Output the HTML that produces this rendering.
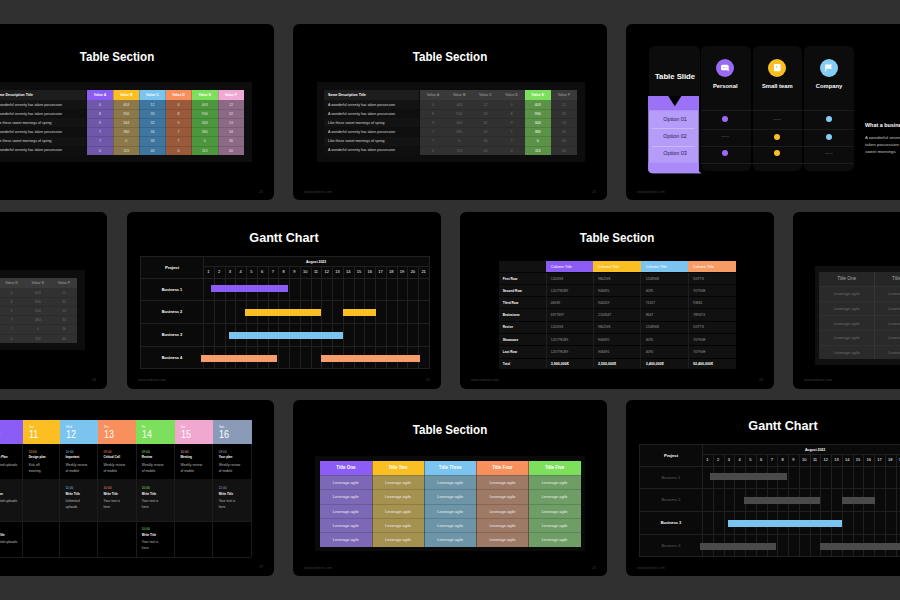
<!DOCTYPE html>
<html><head><meta charset="utf-8"><style>
html,body{margin:0;padding:0;}
body{width:900px;height:600px;overflow:hidden;background:#303030;position:relative;font-family:"Liberation Sans",sans-serif;}
div{position:absolute;box-sizing:border-box;}
.card{background:#000;border-radius:6px;overflow:hidden;}
</style></head><body>
<div class="card" style="left:-40px;top:24px;width:314px;height:176px;"><div style="left:7.00px;top:26.80px;width:300px;height:12.60px;line-height:12.60px;font-size:12.60px;color:#fff;font-weight:bold;text-align:center;white-space:nowrap;transform:scaleX(0.92);transform-origin:center center;">Table Section</div><div style="left:24.00px;top:58.00px;width:268.00px;height:80.00px;background:#0d0d0d;"></div><div style="left:31.00px;top:66.00px;width:95.00px;height:10.00px;background:#1d1d1d;"></div><div style="left:35.00px;top:70.05px;width:300px;height:3.50px;line-height:3.50px;font-size:3.50px;color:#fff;font-weight:bold;text-align:left;white-space:nowrap;">Some Description Title</div><div style="left:31.00px;top:76.00px;width:95.00px;height:9.17px;background:#131313;"></div><div style="left:35.00px;top:79.61px;width:300px;height:3.55px;line-height:3.55px;font-size:3.55px;color:#d8d8d8;font-weight:normal;text-align:left;white-space:nowrap;">A wonderful serenity has taken possession</div><div style="left:31.00px;top:85.17px;width:95.00px;height:9.17px;background:#0f0f0f;"></div><div style="left:35.00px;top:88.77px;width:300px;height:3.55px;line-height:3.55px;font-size:3.55px;color:#d8d8d8;font-weight:normal;text-align:left;white-space:nowrap;">A wonderful serenity has taken possession</div><div style="left:31.00px;top:94.33px;width:95.00px;height:9.17px;background:#131313;"></div><div style="left:35.00px;top:97.94px;width:300px;height:3.55px;line-height:3.55px;font-size:3.55px;color:#d8d8d8;font-weight:normal;text-align:left;white-space:nowrap;">Like these sweet mornings of spring</div><div style="left:31.00px;top:103.50px;width:95.00px;height:9.17px;background:#0f0f0f;"></div><div style="left:35.00px;top:107.11px;width:300px;height:3.55px;line-height:3.55px;font-size:3.55px;color:#d8d8d8;font-weight:normal;text-align:left;white-space:nowrap;">A wonderful serenity has taken possession</div><div style="left:31.00px;top:112.67px;width:95.00px;height:9.17px;background:#131313;"></div><div style="left:35.00px;top:116.27px;width:300px;height:3.55px;line-height:3.55px;font-size:3.55px;color:#d8d8d8;font-weight:normal;text-align:left;white-space:nowrap;">Like these sweet mornings of spring</div><div style="left:31.00px;top:121.83px;width:95.00px;height:9.17px;background:#0f0f0f;"></div><div style="left:35.00px;top:125.44px;width:300px;height:3.55px;line-height:3.55px;font-size:3.55px;color:#d8d8d8;font-weight:normal;text-align:left;white-space:nowrap;">A wonderful serenity has taken possession</div><div style="left:127.00px;top:66.00px;width:26.47px;height:10.00px;background:#8b5cf6;"></div><div style="left:127.00px;top:76.00px;width:26.47px;height:55.00px;background:#6e58aa;"></div><div style="left:-9.92px;top:70.25px;width:300px;height:3.50px;line-height:3.50px;font-size:3.50px;color:#fff;font-weight:bold;text-align:center;white-space:nowrap;">Value A</div><div style="left:-9.92px;top:79.68px;width:300px;height:3.60px;line-height:3.60px;font-size:3.60px;color:#e0e0e0;font-weight:normal;text-align:center;white-space:nowrap;">0</div><div style="left:127.00px;top:84.92px;width:26.17px;height:0.50px;background:rgba(0,0,0,0.12);"></div><div style="left:-9.92px;top:88.85px;width:300px;height:3.60px;line-height:3.60px;font-size:3.60px;color:#e0e0e0;font-weight:normal;text-align:center;white-space:nowrap;">8</div><div style="left:127.00px;top:94.08px;width:26.17px;height:0.50px;background:rgba(0,0,0,0.12);"></div><div style="left:-9.92px;top:98.02px;width:300px;height:3.60px;line-height:3.60px;font-size:3.60px;color:#e0e0e0;font-weight:normal;text-align:center;white-space:nowrap;">9</div><div style="left:127.00px;top:103.25px;width:26.17px;height:0.50px;background:rgba(0,0,0,0.12);"></div><div style="left:-9.92px;top:107.18px;width:300px;height:3.60px;line-height:3.60px;font-size:3.60px;color:#e0e0e0;font-weight:normal;text-align:center;white-space:nowrap;">7</div><div style="left:127.00px;top:112.42px;width:26.17px;height:0.50px;background:rgba(0,0,0,0.12);"></div><div style="left:-9.92px;top:116.35px;width:300px;height:3.60px;line-height:3.60px;font-size:3.60px;color:#e0e0e0;font-weight:normal;text-align:center;white-space:nowrap;">7</div><div style="left:127.00px;top:121.58px;width:26.17px;height:0.50px;background:rgba(0,0,0,0.12);"></div><div style="left:-9.92px;top:125.52px;width:300px;height:3.60px;line-height:3.60px;font-size:3.60px;color:#e0e0e0;font-weight:normal;text-align:center;white-space:nowrap;">0</div><div style="left:153.17px;top:66.00px;width:26.47px;height:10.00px;background:#fbbf24;"></div><div style="left:153.17px;top:76.00px;width:26.47px;height:55.00px;background:#8c7848;"></div><div style="left:152.87px;top:66.00px;width:0.60px;height:65.00px;background:rgba(0,0,0,0.18);"></div><div style="left:16.25px;top:70.25px;width:300px;height:3.50px;line-height:3.50px;font-size:3.50px;color:#fff;font-weight:bold;text-align:center;white-space:nowrap;">Value B</div><div style="left:16.25px;top:79.68px;width:300px;height:3.60px;line-height:3.60px;font-size:3.60px;color:#e0e0e0;font-weight:normal;text-align:center;white-space:nowrap;">403</div><div style="left:153.17px;top:84.92px;width:26.17px;height:0.50px;background:rgba(0,0,0,0.12);"></div><div style="left:16.25px;top:88.85px;width:300px;height:3.60px;line-height:3.60px;font-size:3.60px;color:#e0e0e0;font-weight:normal;text-align:center;white-space:nowrap;">956</div><div style="left:153.17px;top:94.08px;width:26.17px;height:0.50px;background:rgba(0,0,0,0.12);"></div><div style="left:16.25px;top:98.02px;width:300px;height:3.60px;line-height:3.60px;font-size:3.60px;color:#e0e0e0;font-weight:normal;text-align:center;white-space:nowrap;">344</div><div style="left:153.17px;top:103.25px;width:26.17px;height:0.50px;background:rgba(0,0,0,0.12);"></div><div style="left:16.25px;top:107.18px;width:300px;height:3.60px;line-height:3.60px;font-size:3.60px;color:#e0e0e0;font-weight:normal;text-align:center;white-space:nowrap;">380</div><div style="left:153.17px;top:112.42px;width:26.17px;height:0.50px;background:rgba(0,0,0,0.12);"></div><div style="left:16.25px;top:116.35px;width:300px;height:3.60px;line-height:3.60px;font-size:3.60px;color:#e0e0e0;font-weight:normal;text-align:center;white-space:nowrap;">0</div><div style="left:153.17px;top:121.58px;width:26.17px;height:0.50px;background:rgba(0,0,0,0.12);"></div><div style="left:16.25px;top:125.52px;width:300px;height:3.60px;line-height:3.60px;font-size:3.60px;color:#e0e0e0;font-weight:normal;text-align:center;white-space:nowrap;">113</div><div style="left:179.33px;top:66.00px;width:26.47px;height:10.00px;background:#7cc4f0;"></div><div style="left:179.33px;top:76.00px;width:26.47px;height:55.00px;background:#3e76a0;"></div><div style="left:179.03px;top:66.00px;width:0.60px;height:65.00px;background:rgba(0,0,0,0.18);"></div><div style="left:42.42px;top:70.25px;width:300px;height:3.50px;line-height:3.50px;font-size:3.50px;color:#fff;font-weight:bold;text-align:center;white-space:nowrap;">Value C</div><div style="left:42.42px;top:79.68px;width:300px;height:3.60px;line-height:3.60px;font-size:3.60px;color:#e0e0e0;font-weight:normal;text-align:center;white-space:nowrap;">12</div><div style="left:179.33px;top:84.92px;width:26.17px;height:0.50px;background:rgba(0,0,0,0.12);"></div><div style="left:42.42px;top:88.85px;width:300px;height:3.60px;line-height:3.60px;font-size:3.60px;color:#e0e0e0;font-weight:normal;text-align:center;white-space:nowrap;">33</div><div style="left:179.33px;top:94.08px;width:26.17px;height:0.50px;background:rgba(0,0,0,0.12);"></div><div style="left:42.42px;top:98.02px;width:300px;height:3.60px;line-height:3.60px;font-size:3.60px;color:#e0e0e0;font-weight:normal;text-align:center;white-space:nowrap;">32</div><div style="left:179.33px;top:103.25px;width:26.17px;height:0.50px;background:rgba(0,0,0,0.12);"></div><div style="left:42.42px;top:107.18px;width:300px;height:3.60px;line-height:3.60px;font-size:3.60px;color:#e0e0e0;font-weight:normal;text-align:center;white-space:nowrap;">34</div><div style="left:179.33px;top:112.42px;width:26.17px;height:0.50px;background:rgba(0,0,0,0.12);"></div><div style="left:42.42px;top:116.35px;width:300px;height:3.60px;line-height:3.60px;font-size:3.60px;color:#e0e0e0;font-weight:normal;text-align:center;white-space:nowrap;">36</div><div style="left:179.33px;top:121.58px;width:26.17px;height:0.50px;background:rgba(0,0,0,0.12);"></div><div style="left:42.42px;top:125.52px;width:300px;height:3.60px;line-height:3.60px;font-size:3.60px;color:#e0e0e0;font-weight:normal;text-align:center;white-space:nowrap;">40</div><div style="left:205.50px;top:66.00px;width:26.47px;height:10.00px;background:#f7905c;"></div><div style="left:205.50px;top:76.00px;width:26.47px;height:55.00px;background:#985a3a;"></div><div style="left:205.20px;top:66.00px;width:0.60px;height:65.00px;background:rgba(0,0,0,0.18);"></div><div style="left:68.58px;top:70.25px;width:300px;height:3.50px;line-height:3.50px;font-size:3.50px;color:#fff;font-weight:bold;text-align:center;white-space:nowrap;">Value D</div><div style="left:68.58px;top:79.68px;width:300px;height:3.60px;line-height:3.60px;font-size:3.60px;color:#e0e0e0;font-weight:normal;text-align:center;white-space:nowrap;">0</div><div style="left:205.50px;top:84.92px;width:26.17px;height:0.50px;background:rgba(0,0,0,0.12);"></div><div style="left:68.58px;top:88.85px;width:300px;height:3.60px;line-height:3.60px;font-size:3.60px;color:#e0e0e0;font-weight:normal;text-align:center;white-space:nowrap;">8</div><div style="left:205.50px;top:94.08px;width:26.17px;height:0.50px;background:rgba(0,0,0,0.12);"></div><div style="left:68.58px;top:98.02px;width:300px;height:3.60px;line-height:3.60px;font-size:3.60px;color:#e0e0e0;font-weight:normal;text-align:center;white-space:nowrap;">9</div><div style="left:205.50px;top:103.25px;width:26.17px;height:0.50px;background:rgba(0,0,0,0.12);"></div><div style="left:68.58px;top:107.18px;width:300px;height:3.60px;line-height:3.60px;font-size:3.60px;color:#e0e0e0;font-weight:normal;text-align:center;white-space:nowrap;">7</div><div style="left:205.50px;top:112.42px;width:26.17px;height:0.50px;background:rgba(0,0,0,0.12);"></div><div style="left:68.58px;top:116.35px;width:300px;height:3.60px;line-height:3.60px;font-size:3.60px;color:#e0e0e0;font-weight:normal;text-align:center;white-space:nowrap;">7</div><div style="left:205.50px;top:121.58px;width:26.17px;height:0.50px;background:rgba(0,0,0,0.12);"></div><div style="left:68.58px;top:125.52px;width:300px;height:3.60px;line-height:3.60px;font-size:3.60px;color:#e0e0e0;font-weight:normal;text-align:center;white-space:nowrap;">0</div><div style="left:231.67px;top:66.00px;width:26.47px;height:10.00px;background:#7de05c;"></div><div style="left:231.67px;top:76.00px;width:26.47px;height:55.00px;background:#4c963e;"></div><div style="left:231.37px;top:66.00px;width:0.60px;height:65.00px;background:rgba(0,0,0,0.18);"></div><div style="left:94.75px;top:70.25px;width:300px;height:3.50px;line-height:3.50px;font-size:3.50px;color:#fff;font-weight:bold;text-align:center;white-space:nowrap;">Value E</div><div style="left:94.75px;top:79.68px;width:300px;height:3.60px;line-height:3.60px;font-size:3.60px;color:#e0e0e0;font-weight:normal;text-align:center;white-space:nowrap;">403</div><div style="left:231.67px;top:84.92px;width:26.17px;height:0.50px;background:rgba(0,0,0,0.12);"></div><div style="left:94.75px;top:88.85px;width:300px;height:3.60px;line-height:3.60px;font-size:3.60px;color:#e0e0e0;font-weight:normal;text-align:center;white-space:nowrap;">956</div><div style="left:231.67px;top:94.08px;width:26.17px;height:0.50px;background:rgba(0,0,0,0.12);"></div><div style="left:94.75px;top:98.02px;width:300px;height:3.60px;line-height:3.60px;font-size:3.60px;color:#e0e0e0;font-weight:normal;text-align:center;white-space:nowrap;">344</div><div style="left:231.67px;top:103.25px;width:26.17px;height:0.50px;background:rgba(0,0,0,0.12);"></div><div style="left:94.75px;top:107.18px;width:300px;height:3.60px;line-height:3.60px;font-size:3.60px;color:#e0e0e0;font-weight:normal;text-align:center;white-space:nowrap;">380</div><div style="left:231.67px;top:112.42px;width:26.17px;height:0.50px;background:rgba(0,0,0,0.12);"></div><div style="left:94.75px;top:116.35px;width:300px;height:3.60px;line-height:3.60px;font-size:3.60px;color:#e0e0e0;font-weight:normal;text-align:center;white-space:nowrap;">0</div><div style="left:231.67px;top:121.58px;width:26.17px;height:0.50px;background:rgba(0,0,0,0.12);"></div><div style="left:94.75px;top:125.52px;width:300px;height:3.60px;line-height:3.60px;font-size:3.60px;color:#e0e0e0;font-weight:normal;text-align:center;white-space:nowrap;">113</div><div style="left:257.83px;top:66.00px;width:26.47px;height:10.00px;background:#f0a8d4;"></div><div style="left:257.83px;top:76.00px;width:26.47px;height:55.00px;background:#8c6a86;"></div><div style="left:257.53px;top:66.00px;width:0.60px;height:65.00px;background:rgba(0,0,0,0.18);"></div><div style="left:120.92px;top:70.25px;width:300px;height:3.50px;line-height:3.50px;font-size:3.50px;color:#fff;font-weight:bold;text-align:center;white-space:nowrap;">Value F</div><div style="left:120.92px;top:79.68px;width:300px;height:3.60px;line-height:3.60px;font-size:3.60px;color:#e0e0e0;font-weight:normal;text-align:center;white-space:nowrap;">12</div><div style="left:257.83px;top:84.92px;width:26.17px;height:0.50px;background:rgba(0,0,0,0.12);"></div><div style="left:120.92px;top:88.85px;width:300px;height:3.60px;line-height:3.60px;font-size:3.60px;color:#e0e0e0;font-weight:normal;text-align:center;white-space:nowrap;">32</div><div style="left:257.83px;top:94.08px;width:26.17px;height:0.50px;background:rgba(0,0,0,0.12);"></div><div style="left:120.92px;top:98.02px;width:300px;height:3.60px;line-height:3.60px;font-size:3.60px;color:#e0e0e0;font-weight:normal;text-align:center;white-space:nowrap;">13</div><div style="left:257.83px;top:103.25px;width:26.17px;height:0.50px;background:rgba(0,0,0,0.12);"></div><div style="left:120.92px;top:107.18px;width:300px;height:3.60px;line-height:3.60px;font-size:3.60px;color:#e0e0e0;font-weight:normal;text-align:center;white-space:nowrap;">34</div><div style="left:257.83px;top:112.42px;width:26.17px;height:0.50px;background:rgba(0,0,0,0.12);"></div><div style="left:120.92px;top:116.35px;width:300px;height:3.60px;line-height:3.60px;font-size:3.60px;color:#e0e0e0;font-weight:normal;text-align:center;white-space:nowrap;">36</div><div style="left:257.83px;top:121.58px;width:26.17px;height:0.50px;background:rgba(0,0,0,0.12);"></div><div style="left:120.92px;top:125.52px;width:300px;height:3.60px;line-height:3.60px;font-size:3.60px;color:#e0e0e0;font-weight:normal;text-align:center;white-space:nowrap;">40</div><div style="left:11.00px;top:166.85px;width:300px;height:3.50px;line-height:3.50px;font-size:3.50px;color:#3c3c3c;font-weight:normal;text-align:left;white-space:nowrap;">www.website.com</div><div style="left:3.00px;top:166.55px;width:300px;height:3.50px;line-height:3.50px;font-size:3.50px;color:#3c3c3c;font-weight:normal;text-align:right;white-space:nowrap;">24</div></div><div class="card" style="left:293px;top:24px;width:314px;height:176px;"><div style="left:7.00px;top:26.80px;width:300px;height:12.60px;line-height:12.60px;font-size:12.60px;color:#fff;font-weight:bold;text-align:center;white-space:nowrap;transform:scaleX(0.92);transform-origin:center center;">Table Section</div><div style="left:24.00px;top:58.00px;width:268.00px;height:80.00px;background:#0d0d0d;"></div><div style="left:31.00px;top:66.00px;width:95.00px;height:10.00px;background:#1d1d1d;"></div><div style="left:35.00px;top:70.05px;width:300px;height:3.50px;line-height:3.50px;font-size:3.50px;color:#fff;font-weight:bold;text-align:left;white-space:nowrap;">Some Description Title</div><div style="left:31.00px;top:76.00px;width:95.00px;height:9.17px;background:#131313;"></div><div style="left:35.00px;top:79.61px;width:300px;height:3.55px;line-height:3.55px;font-size:3.55px;color:#d8d8d8;font-weight:normal;text-align:left;white-space:nowrap;">A wonderful serenity has taken possession</div><div style="left:31.00px;top:85.17px;width:95.00px;height:9.17px;background:#0f0f0f;"></div><div style="left:35.00px;top:88.77px;width:300px;height:3.55px;line-height:3.55px;font-size:3.55px;color:#d8d8d8;font-weight:normal;text-align:left;white-space:nowrap;">A wonderful serenity has taken possession</div><div style="left:31.00px;top:94.33px;width:95.00px;height:9.17px;background:#131313;"></div><div style="left:35.00px;top:97.94px;width:300px;height:3.55px;line-height:3.55px;font-size:3.55px;color:#d8d8d8;font-weight:normal;text-align:left;white-space:nowrap;">Like these sweet mornings of spring</div><div style="left:31.00px;top:103.50px;width:95.00px;height:9.17px;background:#0f0f0f;"></div><div style="left:35.00px;top:107.11px;width:300px;height:3.55px;line-height:3.55px;font-size:3.55px;color:#d8d8d8;font-weight:normal;text-align:left;white-space:nowrap;">A wonderful serenity has taken possession</div><div style="left:31.00px;top:112.67px;width:95.00px;height:9.17px;background:#131313;"></div><div style="left:35.00px;top:116.27px;width:300px;height:3.55px;line-height:3.55px;font-size:3.55px;color:#d8d8d8;font-weight:normal;text-align:left;white-space:nowrap;">Like these sweet mornings of spring</div><div style="left:31.00px;top:121.83px;width:95.00px;height:9.17px;background:#0f0f0f;"></div><div style="left:35.00px;top:125.44px;width:300px;height:3.55px;line-height:3.55px;font-size:3.55px;color:#d8d8d8;font-weight:normal;text-align:left;white-space:nowrap;">A wonderful serenity has taken possession</div><div style="left:127.00px;top:66.00px;width:26.47px;height:10.00px;background:#3a3a3a;"></div><div style="left:127.00px;top:76.00px;width:26.47px;height:55.00px;background:#313131;"></div><div style="left:-9.92px;top:70.25px;width:300px;height:3.50px;line-height:3.50px;font-size:3.50px;color:#8a8a8a;font-weight:bold;text-align:center;white-space:nowrap;">Value A</div><div style="left:-9.92px;top:79.68px;width:300px;height:3.60px;line-height:3.60px;font-size:3.60px;color:#6a6a6a;font-weight:normal;text-align:center;white-space:nowrap;">0</div><div style="left:127.00px;top:84.92px;width:26.17px;height:0.50px;background:rgba(0,0,0,0.12);"></div><div style="left:-9.92px;top:88.85px;width:300px;height:3.60px;line-height:3.60px;font-size:3.60px;color:#6a6a6a;font-weight:normal;text-align:center;white-space:nowrap;">8</div><div style="left:127.00px;top:94.08px;width:26.17px;height:0.50px;background:rgba(0,0,0,0.12);"></div><div style="left:-9.92px;top:98.02px;width:300px;height:3.60px;line-height:3.60px;font-size:3.60px;color:#6a6a6a;font-weight:normal;text-align:center;white-space:nowrap;">9</div><div style="left:127.00px;top:103.25px;width:26.17px;height:0.50px;background:rgba(0,0,0,0.12);"></div><div style="left:-9.92px;top:107.18px;width:300px;height:3.60px;line-height:3.60px;font-size:3.60px;color:#6a6a6a;font-weight:normal;text-align:center;white-space:nowrap;">7</div><div style="left:127.00px;top:112.42px;width:26.17px;height:0.50px;background:rgba(0,0,0,0.12);"></div><div style="left:-9.92px;top:116.35px;width:300px;height:3.60px;line-height:3.60px;font-size:3.60px;color:#6a6a6a;font-weight:normal;text-align:center;white-space:nowrap;">7</div><div style="left:127.00px;top:121.58px;width:26.17px;height:0.50px;background:rgba(0,0,0,0.12);"></div><div style="left:-9.92px;top:125.52px;width:300px;height:3.60px;line-height:3.60px;font-size:3.60px;color:#6a6a6a;font-weight:normal;text-align:center;white-space:nowrap;">0</div><div style="left:153.17px;top:66.00px;width:26.47px;height:10.00px;background:#3a3a3a;"></div><div style="left:153.17px;top:76.00px;width:26.47px;height:55.00px;background:#313131;"></div><div style="left:16.25px;top:70.25px;width:300px;height:3.50px;line-height:3.50px;font-size:3.50px;color:#8a8a8a;font-weight:bold;text-align:center;white-space:nowrap;">Value B</div><div style="left:16.25px;top:79.68px;width:300px;height:3.60px;line-height:3.60px;font-size:3.60px;color:#6a6a6a;font-weight:normal;text-align:center;white-space:nowrap;">403</div><div style="left:153.17px;top:84.92px;width:26.17px;height:0.50px;background:rgba(0,0,0,0.12);"></div><div style="left:16.25px;top:88.85px;width:300px;height:3.60px;line-height:3.60px;font-size:3.60px;color:#6a6a6a;font-weight:normal;text-align:center;white-space:nowrap;">956</div><div style="left:153.17px;top:94.08px;width:26.17px;height:0.50px;background:rgba(0,0,0,0.12);"></div><div style="left:16.25px;top:98.02px;width:300px;height:3.60px;line-height:3.60px;font-size:3.60px;color:#6a6a6a;font-weight:normal;text-align:center;white-space:nowrap;">344</div><div style="left:153.17px;top:103.25px;width:26.17px;height:0.50px;background:rgba(0,0,0,0.12);"></div><div style="left:16.25px;top:107.18px;width:300px;height:3.60px;line-height:3.60px;font-size:3.60px;color:#6a6a6a;font-weight:normal;text-align:center;white-space:nowrap;">380</div><div style="left:153.17px;top:112.42px;width:26.17px;height:0.50px;background:rgba(0,0,0,0.12);"></div><div style="left:16.25px;top:116.35px;width:300px;height:3.60px;line-height:3.60px;font-size:3.60px;color:#6a6a6a;font-weight:normal;text-align:center;white-space:nowrap;">0</div><div style="left:153.17px;top:121.58px;width:26.17px;height:0.50px;background:rgba(0,0,0,0.12);"></div><div style="left:16.25px;top:125.52px;width:300px;height:3.60px;line-height:3.60px;font-size:3.60px;color:#6a6a6a;font-weight:normal;text-align:center;white-space:nowrap;">113</div><div style="left:179.33px;top:66.00px;width:26.47px;height:10.00px;background:#3a3a3a;"></div><div style="left:179.33px;top:76.00px;width:26.47px;height:55.00px;background:#313131;"></div><div style="left:42.42px;top:70.25px;width:300px;height:3.50px;line-height:3.50px;font-size:3.50px;color:#8a8a8a;font-weight:bold;text-align:center;white-space:nowrap;">Value C</div><div style="left:42.42px;top:79.68px;width:300px;height:3.60px;line-height:3.60px;font-size:3.60px;color:#6a6a6a;font-weight:normal;text-align:center;white-space:nowrap;">12</div><div style="left:179.33px;top:84.92px;width:26.17px;height:0.50px;background:rgba(0,0,0,0.12);"></div><div style="left:42.42px;top:88.85px;width:300px;height:3.60px;line-height:3.60px;font-size:3.60px;color:#6a6a6a;font-weight:normal;text-align:center;white-space:nowrap;">33</div><div style="left:179.33px;top:94.08px;width:26.17px;height:0.50px;background:rgba(0,0,0,0.12);"></div><div style="left:42.42px;top:98.02px;width:300px;height:3.60px;line-height:3.60px;font-size:3.60px;color:#6a6a6a;font-weight:normal;text-align:center;white-space:nowrap;">32</div><div style="left:179.33px;top:103.25px;width:26.17px;height:0.50px;background:rgba(0,0,0,0.12);"></div><div style="left:42.42px;top:107.18px;width:300px;height:3.60px;line-height:3.60px;font-size:3.60px;color:#6a6a6a;font-weight:normal;text-align:center;white-space:nowrap;">34</div><div style="left:179.33px;top:112.42px;width:26.17px;height:0.50px;background:rgba(0,0,0,0.12);"></div><div style="left:42.42px;top:116.35px;width:300px;height:3.60px;line-height:3.60px;font-size:3.60px;color:#6a6a6a;font-weight:normal;text-align:center;white-space:nowrap;">36</div><div style="left:179.33px;top:121.58px;width:26.17px;height:0.50px;background:rgba(0,0,0,0.12);"></div><div style="left:42.42px;top:125.52px;width:300px;height:3.60px;line-height:3.60px;font-size:3.60px;color:#6a6a6a;font-weight:normal;text-align:center;white-space:nowrap;">40</div><div style="left:205.50px;top:66.00px;width:26.47px;height:10.00px;background:#3a3a3a;"></div><div style="left:205.50px;top:76.00px;width:26.47px;height:55.00px;background:#313131;"></div><div style="left:68.58px;top:70.25px;width:300px;height:3.50px;line-height:3.50px;font-size:3.50px;color:#8a8a8a;font-weight:bold;text-align:center;white-space:nowrap;">Value D</div><div style="left:68.58px;top:79.68px;width:300px;height:3.60px;line-height:3.60px;font-size:3.60px;color:#6a6a6a;font-weight:normal;text-align:center;white-space:nowrap;">0</div><div style="left:205.50px;top:84.92px;width:26.17px;height:0.50px;background:rgba(0,0,0,0.12);"></div><div style="left:68.58px;top:88.85px;width:300px;height:3.60px;line-height:3.60px;font-size:3.60px;color:#6a6a6a;font-weight:normal;text-align:center;white-space:nowrap;">8</div><div style="left:205.50px;top:94.08px;width:26.17px;height:0.50px;background:rgba(0,0,0,0.12);"></div><div style="left:68.58px;top:98.02px;width:300px;height:3.60px;line-height:3.60px;font-size:3.60px;color:#6a6a6a;font-weight:normal;text-align:center;white-space:nowrap;">9</div><div style="left:205.50px;top:103.25px;width:26.17px;height:0.50px;background:rgba(0,0,0,0.12);"></div><div style="left:68.58px;top:107.18px;width:300px;height:3.60px;line-height:3.60px;font-size:3.60px;color:#6a6a6a;font-weight:normal;text-align:center;white-space:nowrap;">7</div><div style="left:205.50px;top:112.42px;width:26.17px;height:0.50px;background:rgba(0,0,0,0.12);"></div><div style="left:68.58px;top:116.35px;width:300px;height:3.60px;line-height:3.60px;font-size:3.60px;color:#6a6a6a;font-weight:normal;text-align:center;white-space:nowrap;">7</div><div style="left:205.50px;top:121.58px;width:26.17px;height:0.50px;background:rgba(0,0,0,0.12);"></div><div style="left:68.58px;top:125.52px;width:300px;height:3.60px;line-height:3.60px;font-size:3.60px;color:#6a6a6a;font-weight:normal;text-align:center;white-space:nowrap;">0</div><div style="left:231.67px;top:66.00px;width:26.47px;height:10.00px;background:#7de05c;"></div><div style="left:231.67px;top:76.00px;width:26.47px;height:55.00px;background:#5a9248;"></div><div style="left:94.75px;top:70.25px;width:300px;height:3.50px;line-height:3.50px;font-size:3.50px;color:#fff;font-weight:bold;text-align:center;white-space:nowrap;">Value E</div><div style="left:94.75px;top:79.68px;width:300px;height:3.60px;line-height:3.60px;font-size:3.60px;color:#fff;font-weight:normal;text-align:center;white-space:nowrap;">403</div><div style="left:231.67px;top:84.92px;width:26.17px;height:0.50px;background:rgba(0,0,0,0.12);"></div><div style="left:94.75px;top:88.85px;width:300px;height:3.60px;line-height:3.60px;font-size:3.60px;color:#fff;font-weight:normal;text-align:center;white-space:nowrap;">956</div><div style="left:231.67px;top:94.08px;width:26.17px;height:0.50px;background:rgba(0,0,0,0.12);"></div><div style="left:94.75px;top:98.02px;width:300px;height:3.60px;line-height:3.60px;font-size:3.60px;color:#fff;font-weight:normal;text-align:center;white-space:nowrap;">344</div><div style="left:231.67px;top:103.25px;width:26.17px;height:0.50px;background:rgba(0,0,0,0.12);"></div><div style="left:94.75px;top:107.18px;width:300px;height:3.60px;line-height:3.60px;font-size:3.60px;color:#fff;font-weight:normal;text-align:center;white-space:nowrap;">380</div><div style="left:231.67px;top:112.42px;width:26.17px;height:0.50px;background:rgba(0,0,0,0.12);"></div><div style="left:94.75px;top:116.35px;width:300px;height:3.60px;line-height:3.60px;font-size:3.60px;color:#fff;font-weight:normal;text-align:center;white-space:nowrap;">0</div><div style="left:231.67px;top:121.58px;width:26.17px;height:0.50px;background:rgba(0,0,0,0.12);"></div><div style="left:94.75px;top:125.52px;width:300px;height:3.60px;line-height:3.60px;font-size:3.60px;color:#fff;font-weight:normal;text-align:center;white-space:nowrap;">113</div><div style="left:257.83px;top:66.00px;width:26.47px;height:10.00px;background:#3a3a3a;"></div><div style="left:257.83px;top:76.00px;width:26.47px;height:55.00px;background:#313131;"></div><div style="left:120.92px;top:70.25px;width:300px;height:3.50px;line-height:3.50px;font-size:3.50px;color:#8a8a8a;font-weight:bold;text-align:center;white-space:nowrap;">Value F</div><div style="left:120.92px;top:79.68px;width:300px;height:3.60px;line-height:3.60px;font-size:3.60px;color:#6a6a6a;font-weight:normal;text-align:center;white-space:nowrap;">12</div><div style="left:257.83px;top:84.92px;width:26.17px;height:0.50px;background:rgba(0,0,0,0.12);"></div><div style="left:120.92px;top:88.85px;width:300px;height:3.60px;line-height:3.60px;font-size:3.60px;color:#6a6a6a;font-weight:normal;text-align:center;white-space:nowrap;">32</div><div style="left:257.83px;top:94.08px;width:26.17px;height:0.50px;background:rgba(0,0,0,0.12);"></div><div style="left:120.92px;top:98.02px;width:300px;height:3.60px;line-height:3.60px;font-size:3.60px;color:#6a6a6a;font-weight:normal;text-align:center;white-space:nowrap;">13</div><div style="left:257.83px;top:103.25px;width:26.17px;height:0.50px;background:rgba(0,0,0,0.12);"></div><div style="left:120.92px;top:107.18px;width:300px;height:3.60px;line-height:3.60px;font-size:3.60px;color:#6a6a6a;font-weight:normal;text-align:center;white-space:nowrap;">34</div><div style="left:257.83px;top:112.42px;width:26.17px;height:0.50px;background:rgba(0,0,0,0.12);"></div><div style="left:120.92px;top:116.35px;width:300px;height:3.60px;line-height:3.60px;font-size:3.60px;color:#6a6a6a;font-weight:normal;text-align:center;white-space:nowrap;">36</div><div style="left:257.83px;top:121.58px;width:26.17px;height:0.50px;background:rgba(0,0,0,0.12);"></div><div style="left:120.92px;top:125.52px;width:300px;height:3.60px;line-height:3.60px;font-size:3.60px;color:#6a6a6a;font-weight:normal;text-align:center;white-space:nowrap;">40</div><div style="left:11.00px;top:166.85px;width:300px;height:3.50px;line-height:3.50px;font-size:3.50px;color:#3c3c3c;font-weight:normal;text-align:left;white-space:nowrap;">www.website.com</div><div style="left:3.00px;top:166.55px;width:300px;height:3.50px;line-height:3.50px;font-size:3.50px;color:#3c3c3c;font-weight:normal;text-align:right;white-space:nowrap;">24</div></div><div class="card" style="left:626px;top:24px;width:314px;height:176px;"><div style="left:22.50px;top:22.00px;width:51.00px;height:127.00px;background:#0c0c0c;border-radius:6px;"></div><div style="left:75.00px;top:22.00px;width:49.50px;height:125.00px;background:#0c0c0c;border-radius:6px;"></div><div style="left:126.50px;top:22.00px;width:49.50px;height:125.00px;background:#0c0c0c;border-radius:6px;"></div><div style="left:178.00px;top:22.00px;width:50.00px;height:125.00px;background:#0c0c0c;border-radius:6px;"></div><div style="left:75.00px;top:86.00px;width:153.00px;height:0.70px;background:#1c1c1c;"></div><div style="left:75.00px;top:104.50px;width:153.00px;height:0.70px;background:#1c1c1c;"></div><div style="left:75.00px;top:122.00px;width:153.00px;height:0.70px;background:#1c1c1c;"></div><div style="left:75.00px;top:138.50px;width:153.00px;height:0.70px;background:#1c1c1c;"></div><svg style="position:absolute;left:22px;top:72px;" width="54" height="78" viewBox="0 0 54 78"><path d="M0.25,0 H50.75 V73.5 Q50.75,76.8 53.5,77.25 H5 Q0.25,77.25 0.25,72.5 Z" fill="#b59cf9"/><rect x="0.25" y="0" width="50.5" height="14.25" fill="#9b72f6"/><path d="M0.25,66.75 H50.75 V73.5 Q50.75,76.8 53.5,77.25 H5 Q0.25,77.25 0.25,72.5 Z" fill="#a98af8"/><polygon points="20.2,0 33.4,0 26.8,10.2" fill="#000"/></svg><div style="left:26.00px;top:104.25px;width:43.00px;height:0.60px;background:rgba(255,255,255,0.28);"></div><div style="left:26.00px;top:121.50px;width:43.00px;height:0.60px;background:rgba(255,255,255,0.28);"></div><div style="left:-101.00px;top:92.90px;width:300px;height:5.40px;line-height:5.40px;font-size:5.40px;color:#2a2050;font-weight:normal;text-align:center;white-space:nowrap;">Option 01</div><div style="left:-101.00px;top:110.30px;width:300px;height:5.40px;line-height:5.40px;font-size:5.40px;color:#2a2050;font-weight:normal;text-align:center;white-space:nowrap;">Option 02</div><div style="left:-101.00px;top:127.20px;width:300px;height:5.40px;line-height:5.40px;font-size:5.40px;color:#2a2050;font-weight:normal;text-align:center;white-space:nowrap;">Option 03</div><div style="left:-101.00px;top:48.85px;width:300px;height:7.70px;line-height:7.70px;font-size:7.70px;color:#fff;font-weight:bold;text-align:center;white-space:nowrap;">Table Slide</div><div style="left:90.25px;top:35.00px;width:18px;height:18px;border-radius:50%;background:#9a6af8;"></div><div style="left:-50.75px;top:59.90px;width:300px;height:5.80px;line-height:5.80px;font-size:5.80px;color:#fff;font-weight:bold;text-align:center;white-space:nowrap;">Personal</div><div style="left:142.25px;top:35.00px;width:18px;height:18px;border-radius:50%;background:#fbbf24;"></div><div style="left:1.25px;top:59.90px;width:300px;height:5.80px;line-height:5.80px;font-size:5.80px;color:#fff;font-weight:bold;text-align:center;white-space:nowrap;">Small team</div><div style="left:194.00px;top:35.00px;width:18px;height:18px;border-radius:50%;background:#86cdf5;"></div><div style="left:53.00px;top:59.90px;width:300px;height:5.80px;line-height:5.80px;font-size:5.80px;color:#fff;font-weight:bold;text-align:center;white-space:nowrap;">Company</div><svg style="position:absolute;left:94px;top:39px;" width="10" height="10" viewBox="0 0 10 10"><path d="M2.5,1.7 H7 Q8.7,1.7 8.7,3.4 V8.3 L7,7.3 H2.5 Q1,7.3 1,5.8 V3.2 Q1,1.7 2.5,1.7 Z" fill="#fff"/><circle cx="3.3" cy="4.5" r="0.45" fill="#9a6af8"/><circle cx="4.8" cy="4.5" r="0.45" fill="#9a6af8"/><circle cx="6.3" cy="4.5" r="0.45" fill="#9a6af8"/></svg><svg style="position:absolute;left:146px;top:39px;" width="10" height="10" viewBox="0 0 10 10"><rect x="1.9" y="1.1" width="6.75" height="7.2" rx="1" fill="#fff"/><circle cx="4.6" cy="3.9" r="0.6" fill="#c9a13a"/></svg><svg style="position:absolute;left:198px;top:39px;" width="10" height="10" viewBox="0 0 10 10"><rect x="1.2" y="1.5" width="0.9" height="7.1" fill="#fff"/><path d="M2.1,1.5 H8 L7,3.6 L8,5.8 H2.1 Z" fill="#fff"/></svg><div style="left:95.60px;top:92.20px;width:6px;height:6px;border-radius:50%;background:#9a6af8;"></div><div style="left:94.60px;top:112.20px;width:8.00px;height:0.80px;background:#2a2a2a;"></div><div style="left:95.60px;top:126.30px;width:6px;height:6px;border-radius:50%;background:#9a6af8;"></div><div style="left:147.00px;top:94.80px;width:8.00px;height:0.80px;background:#2a2a2a;"></div><div style="left:148.00px;top:109.60px;width:6px;height:6px;border-radius:50%;background:#fbbf24;"></div><div style="left:148.00px;top:126.30px;width:6px;height:6px;border-radius:50%;background:#fbbf24;"></div><div style="left:199.60px;top:92.20px;width:6px;height:6px;border-radius:50%;background:#86cdf5;"></div><div style="left:199.60px;top:109.60px;width:6px;height:6px;border-radius:50%;background:#86cdf5;"></div><div style="left:198.60px;top:128.90px;width:8.00px;height:0.80px;background:#2a2a2a;"></div><div style="left:239.00px;top:99.30px;width:300px;height:5.40px;line-height:5.40px;font-size:5.40px;color:#fff;font-weight:bold;text-align:left;white-space:nowrap;">What a business</div><div style="left:239.00px;top:111.90px;width:300px;height:4.40px;line-height:4.40px;font-size:4.40px;color:#c4c4c4;font-weight:normal;text-align:left;white-space:nowrap;">A wonderful serenity has</div><div style="left:239.00px;top:119.10px;width:300px;height:4.40px;line-height:4.40px;font-size:4.40px;color:#c4c4c4;font-weight:normal;text-align:left;white-space:nowrap;">taken possession of my</div><div style="left:239.00px;top:126.30px;width:300px;height:4.40px;line-height:4.40px;font-size:4.40px;color:#c4c4c4;font-weight:normal;text-align:left;white-space:nowrap;">sweet mornings</div><div style="left:11.00px;top:166.85px;width:300px;height:3.50px;line-height:3.50px;font-size:3.50px;color:#3c3c3c;font-weight:normal;text-align:left;white-space:nowrap;">www.website.com</div></div><div class="card" style="left:-207px;top:212px;width:314px;height:177px;"><div style="left:7.00px;top:26.80px;width:300px;height:12.60px;line-height:12.60px;font-size:12.60px;color:#fff;font-weight:bold;text-align:center;white-space:nowrap;transform:scaleX(0.92);transform-origin:center center;">Table Section</div><div style="left:24.00px;top:58.00px;width:268.00px;height:80.00px;background:#0d0d0d;"></div><div style="left:31.00px;top:66.00px;width:95.00px;height:10.00px;background:#1d1d1d;"></div><div style="left:35.00px;top:70.05px;width:300px;height:3.50px;line-height:3.50px;font-size:3.50px;color:#fff;font-weight:bold;text-align:left;white-space:nowrap;">Some Description Title</div><div style="left:31.00px;top:76.00px;width:95.00px;height:9.17px;background:#131313;"></div><div style="left:35.00px;top:79.61px;width:300px;height:3.55px;line-height:3.55px;font-size:3.55px;color:#d8d8d8;font-weight:normal;text-align:left;white-space:nowrap;">A wonderful serenity has taken possession</div><div style="left:31.00px;top:85.17px;width:95.00px;height:9.17px;background:#0f0f0f;"></div><div style="left:35.00px;top:88.77px;width:300px;height:3.55px;line-height:3.55px;font-size:3.55px;color:#d8d8d8;font-weight:normal;text-align:left;white-space:nowrap;">A wonderful serenity has taken possession</div><div style="left:31.00px;top:94.33px;width:95.00px;height:9.17px;background:#131313;"></div><div style="left:35.00px;top:97.94px;width:300px;height:3.55px;line-height:3.55px;font-size:3.55px;color:#d8d8d8;font-weight:normal;text-align:left;white-space:nowrap;">Like these sweet mornings of spring</div><div style="left:31.00px;top:103.50px;width:95.00px;height:9.17px;background:#0f0f0f;"></div><div style="left:35.00px;top:107.11px;width:300px;height:3.55px;line-height:3.55px;font-size:3.55px;color:#d8d8d8;font-weight:normal;text-align:left;white-space:nowrap;">A wonderful serenity has taken possession</div><div style="left:31.00px;top:112.67px;width:95.00px;height:9.17px;background:#131313;"></div><div style="left:35.00px;top:116.27px;width:300px;height:3.55px;line-height:3.55px;font-size:3.55px;color:#d8d8d8;font-weight:normal;text-align:left;white-space:nowrap;">Like these sweet mornings of spring</div><div style="left:31.00px;top:121.83px;width:95.00px;height:9.17px;background:#0f0f0f;"></div><div style="left:35.00px;top:125.44px;width:300px;height:3.55px;line-height:3.55px;font-size:3.55px;color:#d8d8d8;font-weight:normal;text-align:left;white-space:nowrap;">A wonderful serenity has taken possession</div><div style="left:127.00px;top:66.00px;width:26.47px;height:10.00px;background:#3a3a3a;"></div><div style="left:127.00px;top:76.00px;width:26.47px;height:55.00px;background:#313131;"></div><div style="left:-9.92px;top:70.25px;width:300px;height:3.50px;line-height:3.50px;font-size:3.50px;color:#8a8a8a;font-weight:bold;text-align:center;white-space:nowrap;">Value A</div><div style="left:-9.92px;top:79.68px;width:300px;height:3.60px;line-height:3.60px;font-size:3.60px;color:#6a6a6a;font-weight:normal;text-align:center;white-space:nowrap;">0</div><div style="left:127.00px;top:84.92px;width:26.17px;height:0.50px;background:rgba(0,0,0,0.12);"></div><div style="left:-9.92px;top:88.85px;width:300px;height:3.60px;line-height:3.60px;font-size:3.60px;color:#6a6a6a;font-weight:normal;text-align:center;white-space:nowrap;">8</div><div style="left:127.00px;top:94.08px;width:26.17px;height:0.50px;background:rgba(0,0,0,0.12);"></div><div style="left:-9.92px;top:98.02px;width:300px;height:3.60px;line-height:3.60px;font-size:3.60px;color:#6a6a6a;font-weight:normal;text-align:center;white-space:nowrap;">9</div><div style="left:127.00px;top:103.25px;width:26.17px;height:0.50px;background:rgba(0,0,0,0.12);"></div><div style="left:-9.92px;top:107.18px;width:300px;height:3.60px;line-height:3.60px;font-size:3.60px;color:#6a6a6a;font-weight:normal;text-align:center;white-space:nowrap;">7</div><div style="left:127.00px;top:112.42px;width:26.17px;height:0.50px;background:rgba(0,0,0,0.12);"></div><div style="left:-9.92px;top:116.35px;width:300px;height:3.60px;line-height:3.60px;font-size:3.60px;color:#6a6a6a;font-weight:normal;text-align:center;white-space:nowrap;">7</div><div style="left:127.00px;top:121.58px;width:26.17px;height:0.50px;background:rgba(0,0,0,0.12);"></div><div style="left:-9.92px;top:125.52px;width:300px;height:3.60px;line-height:3.60px;font-size:3.60px;color:#6a6a6a;font-weight:normal;text-align:center;white-space:nowrap;">0</div><div style="left:153.17px;top:66.00px;width:26.47px;height:10.00px;background:#3a3a3a;"></div><div style="left:153.17px;top:76.00px;width:26.47px;height:55.00px;background:#313131;"></div><div style="left:16.25px;top:70.25px;width:300px;height:3.50px;line-height:3.50px;font-size:3.50px;color:#8a8a8a;font-weight:bold;text-align:center;white-space:nowrap;">Value B</div><div style="left:16.25px;top:79.68px;width:300px;height:3.60px;line-height:3.60px;font-size:3.60px;color:#6a6a6a;font-weight:normal;text-align:center;white-space:nowrap;">403</div><div style="left:153.17px;top:84.92px;width:26.17px;height:0.50px;background:rgba(0,0,0,0.12);"></div><div style="left:16.25px;top:88.85px;width:300px;height:3.60px;line-height:3.60px;font-size:3.60px;color:#6a6a6a;font-weight:normal;text-align:center;white-space:nowrap;">956</div><div style="left:153.17px;top:94.08px;width:26.17px;height:0.50px;background:rgba(0,0,0,0.12);"></div><div style="left:16.25px;top:98.02px;width:300px;height:3.60px;line-height:3.60px;font-size:3.60px;color:#6a6a6a;font-weight:normal;text-align:center;white-space:nowrap;">344</div><div style="left:153.17px;top:103.25px;width:26.17px;height:0.50px;background:rgba(0,0,0,0.12);"></div><div style="left:16.25px;top:107.18px;width:300px;height:3.60px;line-height:3.60px;font-size:3.60px;color:#6a6a6a;font-weight:normal;text-align:center;white-space:nowrap;">380</div><div style="left:153.17px;top:112.42px;width:26.17px;height:0.50px;background:rgba(0,0,0,0.12);"></div><div style="left:16.25px;top:116.35px;width:300px;height:3.60px;line-height:3.60px;font-size:3.60px;color:#6a6a6a;font-weight:normal;text-align:center;white-space:nowrap;">0</div><div style="left:153.17px;top:121.58px;width:26.17px;height:0.50px;background:rgba(0,0,0,0.12);"></div><div style="left:16.25px;top:125.52px;width:300px;height:3.60px;line-height:3.60px;font-size:3.60px;color:#6a6a6a;font-weight:normal;text-align:center;white-space:nowrap;">113</div><div style="left:179.33px;top:66.00px;width:26.47px;height:10.00px;background:#3a3a3a;"></div><div style="left:179.33px;top:76.00px;width:26.47px;height:55.00px;background:#313131;"></div><div style="left:42.42px;top:70.25px;width:300px;height:3.50px;line-height:3.50px;font-size:3.50px;color:#8a8a8a;font-weight:bold;text-align:center;white-space:nowrap;">Value C</div><div style="left:42.42px;top:79.68px;width:300px;height:3.60px;line-height:3.60px;font-size:3.60px;color:#6a6a6a;font-weight:normal;text-align:center;white-space:nowrap;">12</div><div style="left:179.33px;top:84.92px;width:26.17px;height:0.50px;background:rgba(0,0,0,0.12);"></div><div style="left:42.42px;top:88.85px;width:300px;height:3.60px;line-height:3.60px;font-size:3.60px;color:#6a6a6a;font-weight:normal;text-align:center;white-space:nowrap;">33</div><div style="left:179.33px;top:94.08px;width:26.17px;height:0.50px;background:rgba(0,0,0,0.12);"></div><div style="left:42.42px;top:98.02px;width:300px;height:3.60px;line-height:3.60px;font-size:3.60px;color:#6a6a6a;font-weight:normal;text-align:center;white-space:nowrap;">32</div><div style="left:179.33px;top:103.25px;width:26.17px;height:0.50px;background:rgba(0,0,0,0.12);"></div><div style="left:42.42px;top:107.18px;width:300px;height:3.60px;line-height:3.60px;font-size:3.60px;color:#6a6a6a;font-weight:normal;text-align:center;white-space:nowrap;">34</div><div style="left:179.33px;top:112.42px;width:26.17px;height:0.50px;background:rgba(0,0,0,0.12);"></div><div style="left:42.42px;top:116.35px;width:300px;height:3.60px;line-height:3.60px;font-size:3.60px;color:#6a6a6a;font-weight:normal;text-align:center;white-space:nowrap;">36</div><div style="left:179.33px;top:121.58px;width:26.17px;height:0.50px;background:rgba(0,0,0,0.12);"></div><div style="left:42.42px;top:125.52px;width:300px;height:3.60px;line-height:3.60px;font-size:3.60px;color:#6a6a6a;font-weight:normal;text-align:center;white-space:nowrap;">40</div><div style="left:205.50px;top:66.00px;width:26.47px;height:10.00px;background:#3a3a3a;"></div><div style="left:205.50px;top:76.00px;width:26.47px;height:55.00px;background:#313131;"></div><div style="left:68.58px;top:70.25px;width:300px;height:3.50px;line-height:3.50px;font-size:3.50px;color:#8a8a8a;font-weight:bold;text-align:center;white-space:nowrap;">Value D</div><div style="left:68.58px;top:79.68px;width:300px;height:3.60px;line-height:3.60px;font-size:3.60px;color:#6a6a6a;font-weight:normal;text-align:center;white-space:nowrap;">0</div><div style="left:205.50px;top:84.92px;width:26.17px;height:0.50px;background:rgba(0,0,0,0.12);"></div><div style="left:68.58px;top:88.85px;width:300px;height:3.60px;line-height:3.60px;font-size:3.60px;color:#6a6a6a;font-weight:normal;text-align:center;white-space:nowrap;">8</div><div style="left:205.50px;top:94.08px;width:26.17px;height:0.50px;background:rgba(0,0,0,0.12);"></div><div style="left:68.58px;top:98.02px;width:300px;height:3.60px;line-height:3.60px;font-size:3.60px;color:#6a6a6a;font-weight:normal;text-align:center;white-space:nowrap;">9</div><div style="left:205.50px;top:103.25px;width:26.17px;height:0.50px;background:rgba(0,0,0,0.12);"></div><div style="left:68.58px;top:107.18px;width:300px;height:3.60px;line-height:3.60px;font-size:3.60px;color:#6a6a6a;font-weight:normal;text-align:center;white-space:nowrap;">7</div><div style="left:205.50px;top:112.42px;width:26.17px;height:0.50px;background:rgba(0,0,0,0.12);"></div><div style="left:68.58px;top:116.35px;width:300px;height:3.60px;line-height:3.60px;font-size:3.60px;color:#6a6a6a;font-weight:normal;text-align:center;white-space:nowrap;">7</div><div style="left:205.50px;top:121.58px;width:26.17px;height:0.50px;background:rgba(0,0,0,0.12);"></div><div style="left:68.58px;top:125.52px;width:300px;height:3.60px;line-height:3.60px;font-size:3.60px;color:#6a6a6a;font-weight:normal;text-align:center;white-space:nowrap;">0</div><div style="left:231.67px;top:66.00px;width:26.47px;height:10.00px;background:#3a3a3a;"></div><div style="left:231.67px;top:76.00px;width:26.47px;height:55.00px;background:#313131;"></div><div style="left:94.75px;top:70.25px;width:300px;height:3.50px;line-height:3.50px;font-size:3.50px;color:#8a8a8a;font-weight:bold;text-align:center;white-space:nowrap;">Value E</div><div style="left:94.75px;top:79.68px;width:300px;height:3.60px;line-height:3.60px;font-size:3.60px;color:#6a6a6a;font-weight:normal;text-align:center;white-space:nowrap;">403</div><div style="left:231.67px;top:84.92px;width:26.17px;height:0.50px;background:rgba(0,0,0,0.12);"></div><div style="left:94.75px;top:88.85px;width:300px;height:3.60px;line-height:3.60px;font-size:3.60px;color:#6a6a6a;font-weight:normal;text-align:center;white-space:nowrap;">956</div><div style="left:231.67px;top:94.08px;width:26.17px;height:0.50px;background:rgba(0,0,0,0.12);"></div><div style="left:94.75px;top:98.02px;width:300px;height:3.60px;line-height:3.60px;font-size:3.60px;color:#6a6a6a;font-weight:normal;text-align:center;white-space:nowrap;">344</div><div style="left:231.67px;top:103.25px;width:26.17px;height:0.50px;background:rgba(0,0,0,0.12);"></div><div style="left:94.75px;top:107.18px;width:300px;height:3.60px;line-height:3.60px;font-size:3.60px;color:#6a6a6a;font-weight:normal;text-align:center;white-space:nowrap;">380</div><div style="left:231.67px;top:112.42px;width:26.17px;height:0.50px;background:rgba(0,0,0,0.12);"></div><div style="left:94.75px;top:116.35px;width:300px;height:3.60px;line-height:3.60px;font-size:3.60px;color:#6a6a6a;font-weight:normal;text-align:center;white-space:nowrap;">0</div><div style="left:231.67px;top:121.58px;width:26.17px;height:0.50px;background:rgba(0,0,0,0.12);"></div><div style="left:94.75px;top:125.52px;width:300px;height:3.60px;line-height:3.60px;font-size:3.60px;color:#6a6a6a;font-weight:normal;text-align:center;white-space:nowrap;">113</div><div style="left:257.83px;top:66.00px;width:26.47px;height:10.00px;background:#3a3a3a;"></div><div style="left:257.83px;top:76.00px;width:26.47px;height:55.00px;background:#313131;"></div><div style="left:120.92px;top:70.25px;width:300px;height:3.50px;line-height:3.50px;font-size:3.50px;color:#8a8a8a;font-weight:bold;text-align:center;white-space:nowrap;">Value F</div><div style="left:120.92px;top:79.68px;width:300px;height:3.60px;line-height:3.60px;font-size:3.60px;color:#6a6a6a;font-weight:normal;text-align:center;white-space:nowrap;">12</div><div style="left:257.83px;top:84.92px;width:26.17px;height:0.50px;background:rgba(0,0,0,0.12);"></div><div style="left:120.92px;top:88.85px;width:300px;height:3.60px;line-height:3.60px;font-size:3.60px;color:#6a6a6a;font-weight:normal;text-align:center;white-space:nowrap;">32</div><div style="left:257.83px;top:94.08px;width:26.17px;height:0.50px;background:rgba(0,0,0,0.12);"></div><div style="left:120.92px;top:98.02px;width:300px;height:3.60px;line-height:3.60px;font-size:3.60px;color:#6a6a6a;font-weight:normal;text-align:center;white-space:nowrap;">13</div><div style="left:257.83px;top:103.25px;width:26.17px;height:0.50px;background:rgba(0,0,0,0.12);"></div><div style="left:120.92px;top:107.18px;width:300px;height:3.60px;line-height:3.60px;font-size:3.60px;color:#6a6a6a;font-weight:normal;text-align:center;white-space:nowrap;">34</div><div style="left:257.83px;top:112.42px;width:26.17px;height:0.50px;background:rgba(0,0,0,0.12);"></div><div style="left:120.92px;top:116.35px;width:300px;height:3.60px;line-height:3.60px;font-size:3.60px;color:#6a6a6a;font-weight:normal;text-align:center;white-space:nowrap;">36</div><div style="left:257.83px;top:121.58px;width:26.17px;height:0.50px;background:rgba(0,0,0,0.12);"></div><div style="left:120.92px;top:125.52px;width:300px;height:3.60px;line-height:3.60px;font-size:3.60px;color:#6a6a6a;font-weight:normal;text-align:center;white-space:nowrap;">40</div><div style="left:11.00px;top:166.85px;width:300px;height:3.50px;line-height:3.50px;font-size:3.50px;color:#3c3c3c;font-weight:normal;text-align:left;white-space:nowrap;">www.website.com</div><div style="left:3.00px;top:166.55px;width:300px;height:3.50px;line-height:3.50px;font-size:3.50px;color:#3c3c3c;font-weight:normal;text-align:right;white-space:nowrap;">24</div></div><div class="card" style="left:127px;top:212px;width:314px;height:177px;"><div style="left:7.00px;top:18.80px;width:300px;height:13.20px;line-height:13.20px;font-size:13.20px;color:#fff;font-weight:bold;text-align:center;white-space:nowrap;transform:scaleX(0.955);transform-origin:center center;">Gantt Chart</div><div style="left:14.00px;top:44.50px;width:288.00px;height:111.50px;background:#0a0a0a;outline:0.6px solid #202020;"></div><div style="left:14.00px;top:66.00px;width:288.00px;height:0.60px;background:#202020;"></div><div style="left:14.00px;top:88.00px;width:288.00px;height:0.60px;background:#202020;"></div><div style="left:14.00px;top:110.50px;width:288.00px;height:0.60px;background:#202020;"></div><div style="left:14.00px;top:134.00px;width:288.00px;height:0.60px;background:#202020;"></div><div style="left:76.00px;top:54.00px;width:226.00px;height:0.50px;background:#202020;"></div><div style="left:76.00px;top:44.50px;width:0.60px;height:111.50px;background:#202020;"></div><div style="left:86.76px;top:54.00px;width:0.50px;height:102.00px;background:#202020;"></div><div style="left:97.52px;top:54.00px;width:0.50px;height:102.00px;background:#202020;"></div><div style="left:108.29px;top:54.00px;width:0.50px;height:102.00px;background:#202020;"></div><div style="left:119.05px;top:54.00px;width:0.50px;height:102.00px;background:#202020;"></div><div style="left:129.81px;top:54.00px;width:0.50px;height:102.00px;background:#202020;"></div><div style="left:140.57px;top:54.00px;width:0.50px;height:102.00px;background:#202020;"></div><div style="left:151.33px;top:54.00px;width:0.50px;height:102.00px;background:#202020;"></div><div style="left:162.10px;top:54.00px;width:0.50px;height:102.00px;background:#202020;"></div><div style="left:172.86px;top:54.00px;width:0.50px;height:102.00px;background:#202020;"></div><div style="left:183.62px;top:54.00px;width:0.50px;height:102.00px;background:#202020;"></div><div style="left:194.38px;top:54.00px;width:0.50px;height:102.00px;background:#202020;"></div><div style="left:205.14px;top:54.00px;width:0.50px;height:102.00px;background:#202020;"></div><div style="left:215.90px;top:54.00px;width:0.50px;height:102.00px;background:#202020;"></div><div style="left:226.67px;top:54.00px;width:0.50px;height:102.00px;background:#202020;"></div><div style="left:237.43px;top:54.00px;width:0.50px;height:102.00px;background:#202020;"></div><div style="left:248.19px;top:54.00px;width:0.50px;height:102.00px;background:#202020;"></div><div style="left:258.95px;top:54.00px;width:0.50px;height:102.00px;background:#202020;"></div><div style="left:269.71px;top:54.00px;width:0.50px;height:102.00px;background:#202020;"></div><div style="left:280.48px;top:54.00px;width:0.50px;height:102.00px;background:#202020;"></div><div style="left:291.24px;top:54.00px;width:0.50px;height:102.00px;background:#202020;"></div><div style="left:39.00px;top:48.90px;width:300px;height:3.40px;line-height:3.40px;font-size:3.40px;color:#fff;font-weight:bold;text-align:center;white-space:nowrap;">August 2022</div><div style="left:-68.62px;top:58.20px;width:300px;height:4.00px;line-height:4.00px;font-size:4.00px;color:#fff;font-weight:normal;text-align:center;white-space:nowrap;">1</div><div style="left:-57.86px;top:58.20px;width:300px;height:4.00px;line-height:4.00px;font-size:4.00px;color:#fff;font-weight:normal;text-align:center;white-space:nowrap;">2</div><div style="left:-47.10px;top:58.20px;width:300px;height:4.00px;line-height:4.00px;font-size:4.00px;color:#fff;font-weight:normal;text-align:center;white-space:nowrap;">3</div><div style="left:-36.33px;top:58.20px;width:300px;height:4.00px;line-height:4.00px;font-size:4.00px;color:#fff;font-weight:normal;text-align:center;white-space:nowrap;">4</div><div style="left:-25.57px;top:58.20px;width:300px;height:4.00px;line-height:4.00px;font-size:4.00px;color:#fff;font-weight:normal;text-align:center;white-space:nowrap;">5</div><div style="left:-14.81px;top:58.20px;width:300px;height:4.00px;line-height:4.00px;font-size:4.00px;color:#fff;font-weight:normal;text-align:center;white-space:nowrap;">6</div><div style="left:-4.05px;top:58.20px;width:300px;height:4.00px;line-height:4.00px;font-size:4.00px;color:#fff;font-weight:normal;text-align:center;white-space:nowrap;">7</div><div style="left:6.71px;top:58.20px;width:300px;height:4.00px;line-height:4.00px;font-size:4.00px;color:#fff;font-weight:normal;text-align:center;white-space:nowrap;">8</div><div style="left:17.48px;top:58.20px;width:300px;height:4.00px;line-height:4.00px;font-size:4.00px;color:#fff;font-weight:normal;text-align:center;white-space:nowrap;">9</div><div style="left:28.24px;top:58.20px;width:300px;height:4.00px;line-height:4.00px;font-size:4.00px;color:#fff;font-weight:normal;text-align:center;white-space:nowrap;">10</div><div style="left:39.00px;top:58.20px;width:300px;height:4.00px;line-height:4.00px;font-size:4.00px;color:#fff;font-weight:normal;text-align:center;white-space:nowrap;">11</div><div style="left:49.76px;top:58.20px;width:300px;height:4.00px;line-height:4.00px;font-size:4.00px;color:#fff;font-weight:normal;text-align:center;white-space:nowrap;">12</div><div style="left:60.52px;top:58.20px;width:300px;height:4.00px;line-height:4.00px;font-size:4.00px;color:#fff;font-weight:normal;text-align:center;white-space:nowrap;">13</div><div style="left:71.29px;top:58.20px;width:300px;height:4.00px;line-height:4.00px;font-size:4.00px;color:#fff;font-weight:normal;text-align:center;white-space:nowrap;">14</div><div style="left:82.05px;top:58.20px;width:300px;height:4.00px;line-height:4.00px;font-size:4.00px;color:#fff;font-weight:normal;text-align:center;white-space:nowrap;">15</div><div style="left:92.81px;top:58.20px;width:300px;height:4.00px;line-height:4.00px;font-size:4.00px;color:#fff;font-weight:normal;text-align:center;white-space:nowrap;">16</div><div style="left:103.57px;top:58.20px;width:300px;height:4.00px;line-height:4.00px;font-size:4.00px;color:#fff;font-weight:normal;text-align:center;white-space:nowrap;">17</div><div style="left:114.33px;top:58.20px;width:300px;height:4.00px;line-height:4.00px;font-size:4.00px;color:#fff;font-weight:normal;text-align:center;white-space:nowrap;">18</div><div style="left:125.10px;top:58.20px;width:300px;height:4.00px;line-height:4.00px;font-size:4.00px;color:#fff;font-weight:normal;text-align:center;white-space:nowrap;">19</div><div style="left:135.86px;top:58.20px;width:300px;height:4.00px;line-height:4.00px;font-size:4.00px;color:#fff;font-weight:normal;text-align:center;white-space:nowrap;">20</div><div style="left:146.62px;top:58.20px;width:300px;height:4.00px;line-height:4.00px;font-size:4.00px;color:#fff;font-weight:normal;text-align:center;white-space:nowrap;">21</div><div style="left:-105.00px;top:53.90px;width:300px;height:4.20px;line-height:4.20px;font-size:4.20px;color:#fff;font-weight:bold;text-align:center;white-space:nowrap;">Project</div><div style="left:-105.00px;top:75.85px;width:300px;height:3.90px;line-height:3.90px;font-size:3.90px;color:#fff;font-weight:bold;text-align:center;white-space:nowrap;">Business 1</div><div style="left:-105.00px;top:98.10px;width:300px;height:3.90px;line-height:3.90px;font-size:3.90px;color:#fff;font-weight:bold;text-align:center;white-space:nowrap;">Business 2</div><div style="left:-105.00px;top:121.10px;width:300px;height:3.90px;line-height:3.90px;font-size:3.90px;color:#fff;font-weight:bold;text-align:center;white-space:nowrap;">Business 3</div><div style="left:-105.00px;top:143.85px;width:300px;height:3.90px;line-height:3.90px;font-size:3.90px;color:#fff;font-weight:bold;text-align:center;white-space:nowrap;">Business 4</div><div style="left:84.20px;top:73.00px;width:76.80px;height:7.00px;background:#8b5cf6;"></div><div style="left:117.70px;top:97.40px;width:76.30px;height:6.20px;background:#fbbf24;"></div><div style="left:215.60px;top:97.40px;width:33.00px;height:6.20px;background:#fbbf24;"></div><div style="left:101.50px;top:119.80px;width:114.10px;height:6.80px;background:#7cc4f0;"></div><div style="left:73.70px;top:143.00px;width:76.30px;height:6.50px;background:#f79c6c;"></div><div style="left:194.00px;top:143.00px;width:98.60px;height:6.50px;background:#f79c6c;"></div><div style="left:11.00px;top:166.85px;width:300px;height:3.50px;line-height:3.50px;font-size:3.50px;color:#3c3c3c;font-weight:normal;text-align:left;white-space:nowrap;">www.website.com</div><div style="left:3.00px;top:166.55px;width:300px;height:3.50px;line-height:3.50px;font-size:3.50px;color:#3c3c3c;font-weight:normal;text-align:right;white-space:nowrap;">24</div></div><div class="card" style="left:460px;top:212px;width:314px;height:177px;"><div style="left:7.00px;top:19.80px;width:300px;height:12.60px;line-height:12.60px;font-size:12.60px;color:#fff;font-weight:bold;text-align:center;white-space:nowrap;transform:scaleX(0.92);transform-origin:center center;">Table Section</div><div style="left:38.70px;top:48.50px;width:236.90px;height:108.70px;background:#111111;"></div><div style="left:85.80px;top:48.50px;width:47.20px;height:12.00px;background:#8b5cf6;"></div><div style="left:90.80px;top:54.40px;width:300px;height:3.80px;line-height:3.80px;font-size:3.80px;color:#fff;font-weight:normal;text-align:left;white-space:nowrap;">Column Title</div><div style="left:133.00px;top:48.50px;width:47.70px;height:12.00px;background:#fbbf24;"></div><div style="left:138.00px;top:54.40px;width:300px;height:3.80px;line-height:3.80px;font-size:3.80px;color:#fff;font-weight:normal;text-align:left;white-space:nowrap;">Column Title</div><div style="left:180.70px;top:48.50px;width:47.30px;height:12.00px;background:#7cc4f0;"></div><div style="left:185.70px;top:54.40px;width:300px;height:3.80px;line-height:3.80px;font-size:3.80px;color:#fff;font-weight:normal;text-align:left;white-space:nowrap;">Column Title</div><div style="left:228.00px;top:48.50px;width:47.60px;height:12.00px;background:#f79c64;"></div><div style="left:233.00px;top:54.40px;width:300px;height:3.80px;line-height:3.80px;font-size:3.80px;color:#fff;font-weight:normal;text-align:left;white-space:nowrap;">Column Title</div><div style="left:38.70px;top:60.10px;width:236.90px;height:0.80px;background:#040404;"></div><div style="left:38.70px;top:72.20px;width:236.90px;height:0.80px;background:#040404;"></div><div style="left:38.70px;top:84.20px;width:236.90px;height:0.80px;background:#040404;"></div><div style="left:38.70px;top:96.20px;width:236.90px;height:0.80px;background:#040404;"></div><div style="left:38.70px;top:108.60px;width:236.90px;height:0.80px;background:#040404;"></div><div style="left:38.70px;top:121.00px;width:236.90px;height:0.80px;background:#040404;"></div><div style="left:38.70px;top:133.20px;width:236.90px;height:0.80px;background:#040404;"></div><div style="left:38.70px;top:145.60px;width:236.90px;height:0.80px;background:#040404;"></div><div style="left:85.50px;top:60.50px;width:0.60px;height:96.70px;background:#1e1e1e;"></div><div style="left:132.70px;top:60.50px;width:0.60px;height:96.70px;background:#1e1e1e;"></div><div style="left:180.40px;top:60.50px;width:0.60px;height:96.70px;background:#1e1e1e;"></div><div style="left:227.70px;top:60.50px;width:0.60px;height:96.70px;background:#1e1e1e;"></div><div style="left:42.70px;top:65.75px;width:300px;height:3.20px;line-height:3.20px;font-size:3.20px;color:#fff;font-weight:bold;text-align:left;white-space:nowrap;">First Row</div><div style="left:90.80px;top:65.65px;width:300px;height:3.40px;line-height:3.40px;font-size:3.40px;color:#9a9a9a;font-weight:normal;text-align:left;white-space:nowrap;">1202GS</div><div style="left:138.00px;top:65.65px;width:300px;height:3.40px;line-height:3.40px;font-size:3.40px;color:#9a9a9a;font-weight:normal;text-align:left;white-space:nowrap;">9802GS</div><div style="left:185.70px;top:65.65px;width:300px;height:3.40px;line-height:3.40px;font-size:3.40px;color:#9a9a9a;font-weight:normal;text-align:left;white-space:nowrap;">1208908</div><div style="left:233.00px;top:65.65px;width:300px;height:3.40px;line-height:3.40px;font-size:3.40px;color:#9a9a9a;font-weight:normal;text-align:left;white-space:nowrap;">5GTTS</div><div style="left:42.70px;top:77.80px;width:300px;height:3.20px;line-height:3.20px;font-size:3.20px;color:#fff;font-weight:bold;text-align:left;white-space:nowrap;">Second Row</div><div style="left:90.80px;top:77.70px;width:300px;height:3.40px;line-height:3.40px;font-size:3.40px;color:#9a9a9a;font-weight:normal;text-align:left;white-space:nowrap;">12077E289</div><div style="left:138.00px;top:77.70px;width:300px;height:3.40px;line-height:3.40px;font-size:3.40px;color:#9a9a9a;font-weight:normal;text-align:left;white-space:nowrap;">906695</div><div style="left:185.70px;top:77.70px;width:300px;height:3.40px;line-height:3.40px;font-size:3.40px;color:#9a9a9a;font-weight:normal;text-align:left;white-space:nowrap;">4095</div><div style="left:233.00px;top:77.70px;width:300px;height:3.40px;line-height:3.40px;font-size:3.40px;color:#9a9a9a;font-weight:normal;text-align:left;white-space:nowrap;">7079GE</div><div style="left:42.70px;top:89.80px;width:300px;height:3.20px;line-height:3.20px;font-size:3.20px;color:#fff;font-weight:bold;text-align:left;white-space:nowrap;">Third Row</div><div style="left:90.80px;top:89.70px;width:300px;height:3.40px;line-height:3.40px;font-size:3.40px;color:#9a9a9a;font-weight:normal;text-align:left;white-space:nowrap;">46949</div><div style="left:138.00px;top:89.70px;width:300px;height:3.40px;line-height:3.40px;font-size:3.40px;color:#9a9a9a;font-weight:normal;text-align:left;white-space:nowrap;">940059</div><div style="left:185.70px;top:89.70px;width:300px;height:3.40px;line-height:3.40px;font-size:3.40px;color:#9a9a9a;font-weight:normal;text-align:left;white-space:nowrap;">71657</div><div style="left:233.00px;top:89.70px;width:300px;height:3.40px;line-height:3.40px;font-size:3.40px;color:#9a9a9a;font-weight:normal;text-align:left;white-space:nowrap;">93681</div><div style="left:42.70px;top:102.00px;width:300px;height:3.20px;line-height:3.20px;font-size:3.20px;color:#fff;font-weight:bold;text-align:left;white-space:nowrap;">Brainstorm</div><div style="left:90.80px;top:101.90px;width:300px;height:3.40px;line-height:3.40px;font-size:3.40px;color:#9a9a9a;font-weight:normal;text-align:left;white-space:nowrap;">6977697</div><div style="left:138.00px;top:101.90px;width:300px;height:3.40px;line-height:3.40px;font-size:3.40px;color:#9a9a9a;font-weight:normal;text-align:left;white-space:nowrap;">2143347</div><div style="left:185.70px;top:101.90px;width:300px;height:3.40px;line-height:3.40px;font-size:3.40px;color:#9a9a9a;font-weight:normal;text-align:left;white-space:nowrap;">8647</div><div style="left:233.00px;top:101.90px;width:300px;height:3.40px;line-height:3.40px;font-size:3.40px;color:#9a9a9a;font-weight:normal;text-align:left;white-space:nowrap;">78967G</div><div style="left:42.70px;top:114.40px;width:300px;height:3.20px;line-height:3.20px;font-size:3.20px;color:#fff;font-weight:bold;text-align:left;white-space:nowrap;">Revise</div><div style="left:90.80px;top:114.30px;width:300px;height:3.40px;line-height:3.40px;font-size:3.40px;color:#9a9a9a;font-weight:normal;text-align:left;white-space:nowrap;">1202GS</div><div style="left:138.00px;top:114.30px;width:300px;height:3.40px;line-height:3.40px;font-size:3.40px;color:#9a9a9a;font-weight:normal;text-align:left;white-space:nowrap;">9802GS</div><div style="left:185.70px;top:114.30px;width:300px;height:3.40px;line-height:3.40px;font-size:3.40px;color:#9a9a9a;font-weight:normal;text-align:left;white-space:nowrap;">1208908</div><div style="left:233.00px;top:114.30px;width:300px;height:3.40px;line-height:3.40px;font-size:3.40px;color:#9a9a9a;font-weight:normal;text-align:left;white-space:nowrap;">5GTTS</div><div style="left:42.70px;top:126.70px;width:300px;height:3.20px;line-height:3.20px;font-size:3.20px;color:#fff;font-weight:bold;text-align:left;white-space:nowrap;">Showcase</div><div style="left:90.80px;top:126.60px;width:300px;height:3.40px;line-height:3.40px;font-size:3.40px;color:#9a9a9a;font-weight:normal;text-align:left;white-space:nowrap;">12077E289</div><div style="left:138.00px;top:126.60px;width:300px;height:3.40px;line-height:3.40px;font-size:3.40px;color:#9a9a9a;font-weight:normal;text-align:left;white-space:nowrap;">906695</div><div style="left:185.70px;top:126.60px;width:300px;height:3.40px;line-height:3.40px;font-size:3.40px;color:#9a9a9a;font-weight:normal;text-align:left;white-space:nowrap;">4095</div><div style="left:233.00px;top:126.60px;width:300px;height:3.40px;line-height:3.40px;font-size:3.40px;color:#9a9a9a;font-weight:normal;text-align:left;white-space:nowrap;">7079GE</div><div style="left:42.70px;top:139.00px;width:300px;height:3.20px;line-height:3.20px;font-size:3.20px;color:#fff;font-weight:bold;text-align:left;white-space:nowrap;">Last Row</div><div style="left:90.80px;top:138.90px;width:300px;height:3.40px;line-height:3.40px;font-size:3.40px;color:#9a9a9a;font-weight:normal;text-align:left;white-space:nowrap;">12077E289</div><div style="left:138.00px;top:138.90px;width:300px;height:3.40px;line-height:3.40px;font-size:3.40px;color:#9a9a9a;font-weight:normal;text-align:left;white-space:nowrap;">906695</div><div style="left:185.70px;top:138.90px;width:300px;height:3.40px;line-height:3.40px;font-size:3.40px;color:#9a9a9a;font-weight:normal;text-align:left;white-space:nowrap;">4095</div><div style="left:233.00px;top:138.90px;width:300px;height:3.40px;line-height:3.40px;font-size:3.40px;color:#9a9a9a;font-weight:normal;text-align:left;white-space:nowrap;">7079GE</div><div style="left:42.70px;top:150.80px;width:300px;height:3.20px;line-height:3.20px;font-size:3.20px;color:#fff;font-weight:bold;text-align:left;white-space:nowrap;">Total</div><div style="left:90.80px;top:150.60px;width:300px;height:3.60px;line-height:3.60px;font-size:3.60px;color:#fff;font-weight:bold;text-align:left;white-space:nowrap;">3,900,000$</div><div style="left:138.00px;top:150.60px;width:300px;height:3.60px;line-height:3.60px;font-size:3.60px;color:#fff;font-weight:bold;text-align:left;white-space:nowrap;">2,500,000$</div><div style="left:185.70px;top:150.60px;width:300px;height:3.60px;line-height:3.60px;font-size:3.60px;color:#fff;font-weight:bold;text-align:left;white-space:nowrap;">3,400,000$</div><div style="left:233.00px;top:150.60px;width:300px;height:3.60px;line-height:3.60px;font-size:3.60px;color:#fff;font-weight:bold;text-align:left;white-space:nowrap;">92,400,000$</div><div style="left:11.00px;top:166.85px;width:300px;height:3.50px;line-height:3.50px;font-size:3.50px;color:#3c3c3c;font-weight:normal;text-align:left;white-space:nowrap;">www.website.com</div><div style="left:3.00px;top:166.55px;width:300px;height:3.50px;line-height:3.50px;font-size:3.50px;color:#3c3c3c;font-weight:normal;text-align:right;white-space:nowrap;">24</div></div><div class="card" style="left:793px;top:212px;width:314px;height:177px;"><div style="left:7.00px;top:24.40px;width:300px;height:12.60px;line-height:12.60px;font-size:12.60px;color:#fff;font-weight:bold;text-align:center;white-space:nowrap;transform:scaleX(0.92);transform-origin:center center;">Table Section</div><div style="left:22.00px;top:54.00px;width:270.00px;height:99.00px;background:#101010;"></div><div style="left:26.40px;top:60.00px;width:54.90px;height:14.00px;background:#262626;"></div><div style="left:26.40px;top:74.00px;width:54.90px;height:73.40px;background:#2a2a2a;"></div><div style="left:-96.30px;top:65.45px;width:300px;height:4.70px;line-height:4.70px;font-size:4.70px;color:#a8a8a8;font-weight:normal;text-align:center;white-space:nowrap;">Title One</div><div style="left:26.40px;top:74.00px;width:54.60px;height:0.50px;background:#303030;"></div><div style="left:-96.30px;top:80.16px;width:300px;height:3.96px;line-height:3.96px;font-size:3.96px;color:#707070;font-weight:normal;text-align:center;white-space:nowrap;">Leverage agile</div><div style="left:26.40px;top:88.68px;width:54.60px;height:0.50px;background:#303030;"></div><div style="left:-96.30px;top:94.84px;width:300px;height:3.96px;line-height:3.96px;font-size:3.96px;color:#707070;font-weight:normal;text-align:center;white-space:nowrap;">Leverage agile</div><div style="left:26.40px;top:103.36px;width:54.60px;height:0.50px;background:#303030;"></div><div style="left:-96.30px;top:109.52px;width:300px;height:3.96px;line-height:3.96px;font-size:3.96px;color:#707070;font-weight:normal;text-align:center;white-space:nowrap;">Leverage agile</div><div style="left:26.40px;top:118.04px;width:54.60px;height:0.50px;background:#303030;"></div><div style="left:-96.30px;top:124.20px;width:300px;height:3.96px;line-height:3.96px;font-size:3.96px;color:#707070;font-weight:normal;text-align:center;white-space:nowrap;">Leverage agile</div><div style="left:26.40px;top:132.72px;width:54.60px;height:0.50px;background:#303030;"></div><div style="left:-96.30px;top:138.88px;width:300px;height:3.96px;line-height:3.96px;font-size:3.96px;color:#707070;font-weight:normal;text-align:center;white-space:nowrap;">Leverage agile</div><div style="left:81.00px;top:60.00px;width:54.90px;height:14.00px;background:#262626;"></div><div style="left:81.00px;top:74.00px;width:54.90px;height:73.40px;background:#2a2a2a;"></div><div style="left:-41.70px;top:65.45px;width:300px;height:4.70px;line-height:4.70px;font-size:4.70px;color:#a8a8a8;font-weight:normal;text-align:center;white-space:nowrap;">Title Two</div><div style="left:81.00px;top:74.00px;width:54.60px;height:0.50px;background:#303030;"></div><div style="left:-41.70px;top:80.16px;width:300px;height:3.96px;line-height:3.96px;font-size:3.96px;color:#707070;font-weight:normal;text-align:center;white-space:nowrap;">Leverage agile</div><div style="left:81.00px;top:88.68px;width:54.60px;height:0.50px;background:#303030;"></div><div style="left:-41.70px;top:94.84px;width:300px;height:3.96px;line-height:3.96px;font-size:3.96px;color:#707070;font-weight:normal;text-align:center;white-space:nowrap;">Leverage agile</div><div style="left:81.00px;top:103.36px;width:54.60px;height:0.50px;background:#303030;"></div><div style="left:-41.70px;top:109.52px;width:300px;height:3.96px;line-height:3.96px;font-size:3.96px;color:#707070;font-weight:normal;text-align:center;white-space:nowrap;">Leverage agile</div><div style="left:81.00px;top:118.04px;width:54.60px;height:0.50px;background:#303030;"></div><div style="left:-41.70px;top:124.20px;width:300px;height:3.96px;line-height:3.96px;font-size:3.96px;color:#707070;font-weight:normal;text-align:center;white-space:nowrap;">Leverage agile</div><div style="left:81.00px;top:132.72px;width:54.60px;height:0.50px;background:#303030;"></div><div style="left:-41.70px;top:138.88px;width:300px;height:3.96px;line-height:3.96px;font-size:3.96px;color:#707070;font-weight:normal;text-align:center;white-space:nowrap;">Leverage agile</div><div style="left:80.75px;top:60.00px;width:0.50px;height:87.40px;background:#363636;"></div><div style="left:135.60px;top:60.00px;width:54.90px;height:14.00px;background:#262626;"></div><div style="left:135.60px;top:74.00px;width:54.90px;height:73.40px;background:#2a2a2a;"></div><div style="left:12.90px;top:65.45px;width:300px;height:4.70px;line-height:4.70px;font-size:4.70px;color:#a8a8a8;font-weight:normal;text-align:center;white-space:nowrap;">Title Three</div><div style="left:135.60px;top:74.00px;width:54.60px;height:0.50px;background:#303030;"></div><div style="left:12.90px;top:80.16px;width:300px;height:3.96px;line-height:3.96px;font-size:3.96px;color:#707070;font-weight:normal;text-align:center;white-space:nowrap;">Leverage agile</div><div style="left:135.60px;top:88.68px;width:54.60px;height:0.50px;background:#303030;"></div><div style="left:12.90px;top:94.84px;width:300px;height:3.96px;line-height:3.96px;font-size:3.96px;color:#707070;font-weight:normal;text-align:center;white-space:nowrap;">Leverage agile</div><div style="left:135.60px;top:103.36px;width:54.60px;height:0.50px;background:#303030;"></div><div style="left:12.90px;top:109.52px;width:300px;height:3.96px;line-height:3.96px;font-size:3.96px;color:#707070;font-weight:normal;text-align:center;white-space:nowrap;">Leverage agile</div><div style="left:135.60px;top:118.04px;width:54.60px;height:0.50px;background:#303030;"></div><div style="left:12.90px;top:124.20px;width:300px;height:3.96px;line-height:3.96px;font-size:3.96px;color:#707070;font-weight:normal;text-align:center;white-space:nowrap;">Leverage agile</div><div style="left:135.60px;top:132.72px;width:54.60px;height:0.50px;background:#303030;"></div><div style="left:12.90px;top:138.88px;width:300px;height:3.96px;line-height:3.96px;font-size:3.96px;color:#707070;font-weight:normal;text-align:center;white-space:nowrap;">Leverage agile</div><div style="left:135.35px;top:60.00px;width:0.50px;height:87.40px;background:#363636;"></div><div style="left:190.20px;top:60.00px;width:54.90px;height:14.00px;background:#262626;"></div><div style="left:190.20px;top:74.00px;width:54.90px;height:73.40px;background:#2a2a2a;"></div><div style="left:67.50px;top:65.45px;width:300px;height:4.70px;line-height:4.70px;font-size:4.70px;color:#a8a8a8;font-weight:normal;text-align:center;white-space:nowrap;">Title Four</div><div style="left:190.20px;top:74.00px;width:54.60px;height:0.50px;background:#303030;"></div><div style="left:67.50px;top:80.16px;width:300px;height:3.96px;line-height:3.96px;font-size:3.96px;color:#707070;font-weight:normal;text-align:center;white-space:nowrap;">Leverage agile</div><div style="left:190.20px;top:88.68px;width:54.60px;height:0.50px;background:#303030;"></div><div style="left:67.50px;top:94.84px;width:300px;height:3.96px;line-height:3.96px;font-size:3.96px;color:#707070;font-weight:normal;text-align:center;white-space:nowrap;">Leverage agile</div><div style="left:190.20px;top:103.36px;width:54.60px;height:0.50px;background:#303030;"></div><div style="left:67.50px;top:109.52px;width:300px;height:3.96px;line-height:3.96px;font-size:3.96px;color:#707070;font-weight:normal;text-align:center;white-space:nowrap;">Leverage agile</div><div style="left:190.20px;top:118.04px;width:54.60px;height:0.50px;background:#303030;"></div><div style="left:67.50px;top:124.20px;width:300px;height:3.96px;line-height:3.96px;font-size:3.96px;color:#707070;font-weight:normal;text-align:center;white-space:nowrap;">Leverage agile</div><div style="left:190.20px;top:132.72px;width:54.60px;height:0.50px;background:#303030;"></div><div style="left:67.50px;top:138.88px;width:300px;height:3.96px;line-height:3.96px;font-size:3.96px;color:#707070;font-weight:normal;text-align:center;white-space:nowrap;">Leverage agile</div><div style="left:189.95px;top:60.00px;width:0.50px;height:87.40px;background:#363636;"></div><div style="left:244.80px;top:60.00px;width:54.90px;height:14.00px;background:#262626;"></div><div style="left:244.80px;top:74.00px;width:54.90px;height:73.40px;background:#2a2a2a;"></div><div style="left:122.10px;top:65.45px;width:300px;height:4.70px;line-height:4.70px;font-size:4.70px;color:#a8a8a8;font-weight:normal;text-align:center;white-space:nowrap;">Title Five</div><div style="left:244.80px;top:74.00px;width:54.60px;height:0.50px;background:#303030;"></div><div style="left:122.10px;top:80.16px;width:300px;height:3.96px;line-height:3.96px;font-size:3.96px;color:#707070;font-weight:normal;text-align:center;white-space:nowrap;">Leverage agile</div><div style="left:244.80px;top:88.68px;width:54.60px;height:0.50px;background:#303030;"></div><div style="left:122.10px;top:94.84px;width:300px;height:3.96px;line-height:3.96px;font-size:3.96px;color:#707070;font-weight:normal;text-align:center;white-space:nowrap;">Leverage agile</div><div style="left:244.80px;top:103.36px;width:54.60px;height:0.50px;background:#303030;"></div><div style="left:122.10px;top:109.52px;width:300px;height:3.96px;line-height:3.96px;font-size:3.96px;color:#707070;font-weight:normal;text-align:center;white-space:nowrap;">Leverage agile</div><div style="left:244.80px;top:118.04px;width:54.60px;height:0.50px;background:#303030;"></div><div style="left:122.10px;top:124.20px;width:300px;height:3.96px;line-height:3.96px;font-size:3.96px;color:#707070;font-weight:normal;text-align:center;white-space:nowrap;">Leverage agile</div><div style="left:244.80px;top:132.72px;width:54.60px;height:0.50px;background:#303030;"></div><div style="left:122.10px;top:138.88px;width:300px;height:3.96px;line-height:3.96px;font-size:3.96px;color:#707070;font-weight:normal;text-align:center;white-space:nowrap;">Leverage agile</div><div style="left:244.55px;top:60.00px;width:0.50px;height:87.40px;background:#363636;"></div><div style="left:11.00px;top:166.85px;width:300px;height:3.50px;line-height:3.50px;font-size:3.50px;color:#3c3c3c;font-weight:normal;text-align:left;white-space:nowrap;">www.website.com</div><div style="left:3.00px;top:166.55px;width:300px;height:3.50px;line-height:3.50px;font-size:3.50px;color:#3c3c3c;font-weight:normal;text-align:right;white-space:nowrap;">24</div></div><div class="card" style="left:-40px;top:400px;width:314px;height:176px;"><div style="left:24.40px;top:79.00px;width:266.90px;height:42.40px;background:#121212;"></div><div style="left:24.40px;top:157.40px;width:266.90px;height:0.60px;background:#1c1c1c;"></div><div style="left:24.10px;top:43.60px;width:0.60px;height:113.80px;background:#1c1c1c;"></div><div style="left:62.40px;top:43.60px;width:0.60px;height:113.80px;background:#1c1c1c;"></div><div style="left:99.20px;top:43.60px;width:0.60px;height:113.80px;background:#1c1c1c;"></div><div style="left:137.20px;top:43.60px;width:0.60px;height:113.80px;background:#1c1c1c;"></div><div style="left:175.50px;top:43.60px;width:0.60px;height:113.80px;background:#1c1c1c;"></div><div style="left:214.20px;top:43.60px;width:0.60px;height:113.80px;background:#1c1c1c;"></div><div style="left:252.40px;top:43.60px;width:0.60px;height:113.80px;background:#1c1c1c;"></div><div style="left:291.00px;top:43.60px;width:0.60px;height:113.80px;background:#1c1c1c;"></div><div style="left:24.40px;top:121.40px;width:266.90px;height:0.60px;background:#1c1c1c;"></div><div style="left:24.40px;top:19.70px;width:38.60px;height:23.90px;background:#8b5cf6;"></div><div style="left:30.60px;top:26.20px;width:300px;height:3.00px;line-height:3.00px;font-size:3.00px;color:#fff;font-weight:normal;text-align:left;white-space:nowrap;">Mon</div><div style="left:30.40px;top:30.10px;width:300px;height:10.00px;line-height:10.00px;font-size:10.00px;color:#fff;font-weight:normal;text-align:left;white-space:nowrap;transform:scaleX(0.9);transform-origin:left center;">10</div><div style="left:30.40px;top:50.70px;width:300px;height:3.20px;line-height:3.20px;font-size:3.20px;color:#b59cff;font-weight:normal;text-align:left;white-space:nowrap;">09:00</div><div style="left:30.40px;top:56.40px;width:300px;height:3.00px;line-height:3.00px;font-size:3.00px;color:#fff;font-weight:bold;text-align:left;white-space:nowrap;">Design Plan</div><div style="left:30.40px;top:63.82px;width:300px;height:3.36px;line-height:3.36px;font-size:3.36px;color:#bbb;font-weight:normal;text-align:left;white-space:nowrap;">Unlimited uploads</div><div style="left:62.70px;top:19.70px;width:37.10px;height:23.90px;background:#fbbf24;"></div><div style="left:68.90px;top:26.20px;width:300px;height:3.00px;line-height:3.00px;font-size:3.00px;color:#fff;font-weight:normal;text-align:left;white-space:nowrap;">Tue</div><div style="left:68.70px;top:30.10px;width:300px;height:10.00px;line-height:10.00px;font-size:10.00px;color:#fff;font-weight:normal;text-align:left;white-space:nowrap;transform:scaleX(0.9);transform-origin:left center;">11</div><div style="left:68.70px;top:50.70px;width:300px;height:3.20px;line-height:3.20px;font-size:3.20px;color:#e8b830;font-weight:normal;text-align:left;white-space:nowrap;">10:00</div><div style="left:68.70px;top:56.40px;width:300px;height:3.00px;line-height:3.00px;font-size:3.00px;color:#fff;font-weight:bold;text-align:left;white-space:nowrap;">Design plan</div><div style="left:68.70px;top:63.82px;width:300px;height:3.36px;line-height:3.36px;font-size:3.36px;color:#bbb;font-weight:normal;text-align:left;white-space:nowrap;">Kick off</div><div style="left:68.70px;top:69.62px;width:300px;height:3.36px;line-height:3.36px;font-size:3.36px;color:#bbb;font-weight:normal;text-align:left;white-space:nowrap;">meeting</div><div style="left:99.50px;top:19.70px;width:38.30px;height:23.90px;background:#7cc4f0;"></div><div style="left:105.70px;top:26.20px;width:300px;height:3.00px;line-height:3.00px;font-size:3.00px;color:#fff;font-weight:normal;text-align:left;white-space:nowrap;">Wed</div><div style="left:105.50px;top:30.10px;width:300px;height:10.00px;line-height:10.00px;font-size:10.00px;color:#fff;font-weight:normal;text-align:left;white-space:nowrap;transform:scaleX(0.9);transform-origin:left center;">12</div><div style="left:105.50px;top:50.70px;width:300px;height:3.20px;line-height:3.20px;font-size:3.20px;color:#7cc4f0;font-weight:normal;text-align:left;white-space:nowrap;">10:00</div><div style="left:105.50px;top:56.40px;width:300px;height:3.00px;line-height:3.00px;font-size:3.00px;color:#fff;font-weight:bold;text-align:left;white-space:nowrap;">Important</div><div style="left:105.50px;top:63.82px;width:300px;height:3.36px;line-height:3.36px;font-size:3.36px;color:#bbb;font-weight:normal;text-align:left;white-space:nowrap;">Weekly review</div><div style="left:105.50px;top:69.62px;width:300px;height:3.36px;line-height:3.36px;font-size:3.36px;color:#bbb;font-weight:normal;text-align:left;white-space:nowrap;">of mobile</div><div style="left:137.50px;top:19.70px;width:38.60px;height:23.90px;background:#f7905c;"></div><div style="left:143.70px;top:26.20px;width:300px;height:3.00px;line-height:3.00px;font-size:3.00px;color:#fff;font-weight:normal;text-align:left;white-space:nowrap;">Thu</div><div style="left:143.50px;top:30.10px;width:300px;height:10.00px;line-height:10.00px;font-size:10.00px;color:#fff;font-weight:normal;text-align:left;white-space:nowrap;transform:scaleX(0.9);transform-origin:left center;">13</div><div style="left:143.50px;top:50.70px;width:300px;height:3.20px;line-height:3.20px;font-size:3.20px;color:#f7905c;font-weight:normal;text-align:left;white-space:nowrap;">09:00</div><div style="left:143.50px;top:56.40px;width:300px;height:3.00px;line-height:3.00px;font-size:3.00px;color:#fff;font-weight:bold;text-align:left;white-space:nowrap;">Critical Call</div><div style="left:143.50px;top:63.82px;width:300px;height:3.36px;line-height:3.36px;font-size:3.36px;color:#bbb;font-weight:normal;text-align:left;white-space:nowrap;">Weekly review</div><div style="left:143.50px;top:69.62px;width:300px;height:3.36px;line-height:3.36px;font-size:3.36px;color:#bbb;font-weight:normal;text-align:left;white-space:nowrap;">of mobile</div><div style="left:175.80px;top:19.70px;width:39.00px;height:23.90px;background:#7de05c;"></div><div style="left:182.00px;top:26.20px;width:300px;height:3.00px;line-height:3.00px;font-size:3.00px;color:#fff;font-weight:normal;text-align:left;white-space:nowrap;">Fri</div><div style="left:181.80px;top:30.10px;width:300px;height:10.00px;line-height:10.00px;font-size:10.00px;color:#fff;font-weight:normal;text-align:left;white-space:nowrap;transform:scaleX(0.9);transform-origin:left center;">14</div><div style="left:181.80px;top:50.70px;width:300px;height:3.20px;line-height:3.20px;font-size:3.20px;color:#7de05c;font-weight:normal;text-align:left;white-space:nowrap;">09:00</div><div style="left:181.80px;top:56.40px;width:300px;height:3.00px;line-height:3.00px;font-size:3.00px;color:#fff;font-weight:bold;text-align:left;white-space:nowrap;">Review</div><div style="left:181.80px;top:63.82px;width:300px;height:3.36px;line-height:3.36px;font-size:3.36px;color:#bbb;font-weight:normal;text-align:left;white-space:nowrap;">Weekly review</div><div style="left:181.80px;top:69.62px;width:300px;height:3.36px;line-height:3.36px;font-size:3.36px;color:#bbb;font-weight:normal;text-align:left;white-space:nowrap;">of mobile</div><div style="left:214.50px;top:19.70px;width:38.50px;height:23.90px;background:#f0a8d0;"></div><div style="left:220.70px;top:26.20px;width:300px;height:3.00px;line-height:3.00px;font-size:3.00px;color:#fff;font-weight:normal;text-align:left;white-space:nowrap;">Sat</div><div style="left:220.50px;top:30.10px;width:300px;height:10.00px;line-height:10.00px;font-size:10.00px;color:#fff;font-weight:normal;text-align:left;white-space:nowrap;transform:scaleX(0.9);transform-origin:left center;">15</div><div style="left:220.50px;top:50.70px;width:300px;height:3.20px;line-height:3.20px;font-size:3.20px;color:#f0a8d0;font-weight:normal;text-align:left;white-space:nowrap;">10:00</div><div style="left:220.50px;top:56.40px;width:300px;height:3.00px;line-height:3.00px;font-size:3.00px;color:#fff;font-weight:bold;text-align:left;white-space:nowrap;">Meeting</div><div style="left:220.50px;top:63.82px;width:300px;height:3.36px;line-height:3.36px;font-size:3.36px;color:#bbb;font-weight:normal;text-align:left;white-space:nowrap;">Weekly review</div><div style="left:220.50px;top:69.62px;width:300px;height:3.36px;line-height:3.36px;font-size:3.36px;color:#bbb;font-weight:normal;text-align:left;white-space:nowrap;">of mobile</div><div style="left:252.70px;top:19.70px;width:38.90px;height:23.90px;background:#8a9bb8;"></div><div style="left:258.90px;top:26.20px;width:300px;height:3.00px;line-height:3.00px;font-size:3.00px;color:#fff;font-weight:normal;text-align:left;white-space:nowrap;">Sun</div><div style="left:258.70px;top:30.10px;width:300px;height:10.00px;line-height:10.00px;font-size:10.00px;color:#fff;font-weight:normal;text-align:left;white-space:nowrap;transform:scaleX(0.9);transform-origin:left center;">16</div><div style="left:258.70px;top:50.70px;width:300px;height:3.20px;line-height:3.20px;font-size:3.20px;color:#9aaacc;font-weight:normal;text-align:left;white-space:nowrap;">09:00</div><div style="left:258.70px;top:56.40px;width:300px;height:3.00px;line-height:3.00px;font-size:3.00px;color:#fff;font-weight:bold;text-align:left;white-space:nowrap;">Your plan</div><div style="left:258.70px;top:63.82px;width:300px;height:3.36px;line-height:3.36px;font-size:3.36px;color:#bbb;font-weight:normal;text-align:left;white-space:nowrap;">Weekly review</div><div style="left:258.70px;top:69.62px;width:300px;height:3.36px;line-height:3.36px;font-size:3.36px;color:#bbb;font-weight:normal;text-align:left;white-space:nowrap;">of mobile</div><div style="left:30.40px;top:86.80px;width:300px;height:3.20px;line-height:3.20px;font-size:3.20px;color:#b59cff;font-weight:normal;text-align:left;white-space:nowrap;">11:00</div><div style="left:30.40px;top:92.60px;width:300px;height:3.00px;line-height:3.00px;font-size:3.00px;color:#fff;font-weight:bold;text-align:left;white-space:nowrap;">Revision</div><div style="left:30.40px;top:100.02px;width:300px;height:3.36px;line-height:3.36px;font-size:3.36px;color:#bbb;font-weight:normal;text-align:left;white-space:nowrap;">Unlimited uploads</div><div style="left:105.50px;top:86.80px;width:300px;height:3.20px;line-height:3.20px;font-size:3.20px;color:#7cc4f0;font-weight:normal;text-align:left;white-space:nowrap;">11:00</div><div style="left:105.50px;top:92.60px;width:300px;height:3.00px;line-height:3.00px;font-size:3.00px;color:#fff;font-weight:bold;text-align:left;white-space:nowrap;">Write Title</div><div style="left:105.50px;top:100.02px;width:300px;height:3.36px;line-height:3.36px;font-size:3.36px;color:#bbb;font-weight:normal;text-align:left;white-space:nowrap;">Unlimited</div><div style="left:105.50px;top:105.72px;width:300px;height:3.36px;line-height:3.36px;font-size:3.36px;color:#bbb;font-weight:normal;text-align:left;white-space:nowrap;">uploads</div><div style="left:143.50px;top:86.80px;width:300px;height:3.20px;line-height:3.20px;font-size:3.20px;color:#f7905c;font-weight:normal;text-align:left;white-space:nowrap;">10:00</div><div style="left:143.50px;top:92.60px;width:300px;height:3.00px;line-height:3.00px;font-size:3.00px;color:#fff;font-weight:bold;text-align:left;white-space:nowrap;">Write Title</div><div style="left:143.50px;top:100.02px;width:300px;height:3.36px;line-height:3.36px;font-size:3.36px;color:#bbb;font-weight:normal;text-align:left;white-space:nowrap;">Your text is</div><div style="left:143.50px;top:105.72px;width:300px;height:3.36px;line-height:3.36px;font-size:3.36px;color:#bbb;font-weight:normal;text-align:left;white-space:nowrap;">here</div><div style="left:181.80px;top:86.80px;width:300px;height:3.20px;line-height:3.20px;font-size:3.20px;color:#7de05c;font-weight:normal;text-align:left;white-space:nowrap;">10:00</div><div style="left:181.80px;top:92.60px;width:300px;height:3.00px;line-height:3.00px;font-size:3.00px;color:#fff;font-weight:bold;text-align:left;white-space:nowrap;">Write Title</div><div style="left:181.80px;top:100.02px;width:300px;height:3.36px;line-height:3.36px;font-size:3.36px;color:#bbb;font-weight:normal;text-align:left;white-space:nowrap;">Your text is</div><div style="left:181.80px;top:105.72px;width:300px;height:3.36px;line-height:3.36px;font-size:3.36px;color:#bbb;font-weight:normal;text-align:left;white-space:nowrap;">here</div><div style="left:258.70px;top:86.80px;width:300px;height:3.20px;line-height:3.20px;font-size:3.20px;color:#9aaacc;font-weight:normal;text-align:left;white-space:nowrap;">11:00</div><div style="left:258.70px;top:92.60px;width:300px;height:3.00px;line-height:3.00px;font-size:3.00px;color:#fff;font-weight:bold;text-align:left;white-space:nowrap;">Write Title</div><div style="left:258.70px;top:100.02px;width:300px;height:3.36px;line-height:3.36px;font-size:3.36px;color:#bbb;font-weight:normal;text-align:left;white-space:nowrap;">Your text is</div><div style="left:258.70px;top:105.72px;width:300px;height:3.36px;line-height:3.36px;font-size:3.36px;color:#bbb;font-weight:normal;text-align:left;white-space:nowrap;">here</div><div style="left:30.40px;top:128.30px;width:300px;height:3.20px;line-height:3.20px;font-size:3.20px;color:#b59cff;font-weight:normal;text-align:left;white-space:nowrap;">12:00</div><div style="left:30.40px;top:133.90px;width:300px;height:3.00px;line-height:3.00px;font-size:3.00px;color:#fff;font-weight:bold;text-align:left;white-space:nowrap;">Write Title</div><div style="left:30.40px;top:141.22px;width:300px;height:3.36px;line-height:3.36px;font-size:3.36px;color:#bbb;font-weight:normal;text-align:left;white-space:nowrap;">Unlimited uploads</div><div style="left:181.80px;top:128.30px;width:300px;height:3.20px;line-height:3.20px;font-size:3.20px;color:#7de05c;font-weight:normal;text-align:left;white-space:nowrap;">10:00</div><div style="left:181.80px;top:133.90px;width:300px;height:3.00px;line-height:3.00px;font-size:3.00px;color:#fff;font-weight:bold;text-align:left;white-space:nowrap;">Write Title</div><div style="left:181.80px;top:141.22px;width:300px;height:3.36px;line-height:3.36px;font-size:3.36px;color:#bbb;font-weight:normal;text-align:left;white-space:nowrap;">Your text is</div><div style="left:181.80px;top:146.92px;width:300px;height:3.36px;line-height:3.36px;font-size:3.36px;color:#bbb;font-weight:normal;text-align:left;white-space:nowrap;">here</div><div style="left:3.00px;top:166.05px;width:300px;height:3.50px;line-height:3.50px;font-size:3.50px;color:#3c3c3c;font-weight:normal;text-align:right;white-space:nowrap;">27</div></div><div class="card" style="left:293px;top:400px;width:314px;height:176px;"><div style="left:7.00px;top:24.40px;width:300px;height:12.60px;line-height:12.60px;font-size:12.60px;color:#fff;font-weight:bold;text-align:center;white-space:nowrap;transform:scaleX(0.92);transform-origin:center center;">Table Section</div><div style="left:21.80px;top:55.80px;width:270.70px;height:95.70px;background:#0a0a0a;"></div><div style="left:26.70px;top:60.60px;width:52.50px;height:14.50px;background:#8b5cf6;"></div><div style="left:26.70px;top:75.10px;width:52.50px;height:71.60px;background:#7c68b6;"></div><div style="left:-97.20px;top:66.40px;width:300px;height:4.50px;line-height:4.50px;font-size:4.50px;color:#fff;font-weight:bold;text-align:center;white-space:nowrap;">Title One</div><div style="left:26.70px;top:75.10px;width:52.20px;height:0.50px;background:rgba(0,0,0,0.15);"></div><div style="left:-97.20px;top:81.08px;width:300px;height:3.96px;line-height:3.96px;font-size:3.96px;color:#ececec;font-weight:normal;text-align:center;white-space:nowrap;">Leverage agile</div><div style="left:26.70px;top:89.42px;width:52.20px;height:0.50px;background:rgba(0,0,0,0.15);"></div><div style="left:-97.20px;top:95.40px;width:300px;height:3.96px;line-height:3.96px;font-size:3.96px;color:#ececec;font-weight:normal;text-align:center;white-space:nowrap;">Leverage agile</div><div style="left:26.70px;top:103.74px;width:52.20px;height:0.50px;background:rgba(0,0,0,0.15);"></div><div style="left:-97.20px;top:109.72px;width:300px;height:3.96px;line-height:3.96px;font-size:3.96px;color:#ececec;font-weight:normal;text-align:center;white-space:nowrap;">Leverage agile</div><div style="left:26.70px;top:118.06px;width:52.20px;height:0.50px;background:rgba(0,0,0,0.15);"></div><div style="left:-97.20px;top:124.04px;width:300px;height:3.96px;line-height:3.96px;font-size:3.96px;color:#ececec;font-weight:normal;text-align:center;white-space:nowrap;">Leverage agile</div><div style="left:26.70px;top:132.38px;width:52.20px;height:0.50px;background:rgba(0,0,0,0.15);"></div><div style="left:-97.20px;top:138.36px;width:300px;height:3.96px;line-height:3.96px;font-size:3.96px;color:#ececec;font-weight:normal;text-align:center;white-space:nowrap;">Leverage agile</div><div style="left:78.90px;top:60.60px;width:52.50px;height:14.50px;background:#fbbf24;"></div><div style="left:78.90px;top:75.10px;width:52.50px;height:71.60px;background:#a69250;"></div><div style="left:-45.00px;top:66.40px;width:300px;height:4.50px;line-height:4.50px;font-size:4.50px;color:#fff;font-weight:bold;text-align:center;white-space:nowrap;">Title Two</div><div style="left:78.90px;top:75.10px;width:52.20px;height:0.50px;background:rgba(0,0,0,0.15);"></div><div style="left:-45.00px;top:81.08px;width:300px;height:3.96px;line-height:3.96px;font-size:3.96px;color:#ececec;font-weight:normal;text-align:center;white-space:nowrap;">Leverage agile</div><div style="left:78.90px;top:89.42px;width:52.20px;height:0.50px;background:rgba(0,0,0,0.15);"></div><div style="left:-45.00px;top:95.40px;width:300px;height:3.96px;line-height:3.96px;font-size:3.96px;color:#ececec;font-weight:normal;text-align:center;white-space:nowrap;">Leverage agile</div><div style="left:78.90px;top:103.74px;width:52.20px;height:0.50px;background:rgba(0,0,0,0.15);"></div><div style="left:-45.00px;top:109.72px;width:300px;height:3.96px;line-height:3.96px;font-size:3.96px;color:#ececec;font-weight:normal;text-align:center;white-space:nowrap;">Leverage agile</div><div style="left:78.90px;top:118.06px;width:52.20px;height:0.50px;background:rgba(0,0,0,0.15);"></div><div style="left:-45.00px;top:124.04px;width:300px;height:3.96px;line-height:3.96px;font-size:3.96px;color:#ececec;font-weight:normal;text-align:center;white-space:nowrap;">Leverage agile</div><div style="left:78.90px;top:132.38px;width:52.20px;height:0.50px;background:rgba(0,0,0,0.15);"></div><div style="left:-45.00px;top:138.36px;width:300px;height:3.96px;line-height:3.96px;font-size:3.96px;color:#ececec;font-weight:normal;text-align:center;white-space:nowrap;">Leverage agile</div><div style="left:78.65px;top:60.60px;width:0.50px;height:86.10px;background:rgba(0,0,0,0.35);"></div><div style="left:131.10px;top:60.60px;width:52.50px;height:14.50px;background:#7cc4f0;"></div><div style="left:131.10px;top:75.10px;width:52.50px;height:71.60px;background:#6c96a8;"></div><div style="left:7.20px;top:66.40px;width:300px;height:4.50px;line-height:4.50px;font-size:4.50px;color:#fff;font-weight:bold;text-align:center;white-space:nowrap;">Title Three</div><div style="left:131.10px;top:75.10px;width:52.20px;height:0.50px;background:rgba(0,0,0,0.15);"></div><div style="left:7.20px;top:81.08px;width:300px;height:3.96px;line-height:3.96px;font-size:3.96px;color:#ececec;font-weight:normal;text-align:center;white-space:nowrap;">Leverage agile</div><div style="left:131.10px;top:89.42px;width:52.20px;height:0.50px;background:rgba(0,0,0,0.15);"></div><div style="left:7.20px;top:95.40px;width:300px;height:3.96px;line-height:3.96px;font-size:3.96px;color:#ececec;font-weight:normal;text-align:center;white-space:nowrap;">Leverage agile</div><div style="left:131.10px;top:103.74px;width:52.20px;height:0.50px;background:rgba(0,0,0,0.15);"></div><div style="left:7.20px;top:109.72px;width:300px;height:3.96px;line-height:3.96px;font-size:3.96px;color:#ececec;font-weight:normal;text-align:center;white-space:nowrap;">Leverage agile</div><div style="left:131.10px;top:118.06px;width:52.20px;height:0.50px;background:rgba(0,0,0,0.15);"></div><div style="left:7.20px;top:124.04px;width:300px;height:3.96px;line-height:3.96px;font-size:3.96px;color:#ececec;font-weight:normal;text-align:center;white-space:nowrap;">Leverage agile</div><div style="left:131.10px;top:132.38px;width:52.20px;height:0.50px;background:rgba(0,0,0,0.15);"></div><div style="left:7.20px;top:138.36px;width:300px;height:3.96px;line-height:3.96px;font-size:3.96px;color:#ececec;font-weight:normal;text-align:center;white-space:nowrap;">Leverage agile</div><div style="left:130.85px;top:60.60px;width:0.50px;height:86.10px;background:rgba(0,0,0,0.35);"></div><div style="left:183.30px;top:60.60px;width:52.50px;height:14.50px;background:#f7905c;"></div><div style="left:183.30px;top:75.10px;width:52.50px;height:71.60px;background:#9e7a66;"></div><div style="left:59.40px;top:66.40px;width:300px;height:4.50px;line-height:4.50px;font-size:4.50px;color:#fff;font-weight:bold;text-align:center;white-space:nowrap;">Title Four</div><div style="left:183.30px;top:75.10px;width:52.20px;height:0.50px;background:rgba(0,0,0,0.15);"></div><div style="left:59.40px;top:81.08px;width:300px;height:3.96px;line-height:3.96px;font-size:3.96px;color:#ececec;font-weight:normal;text-align:center;white-space:nowrap;">Leverage agile</div><div style="left:183.30px;top:89.42px;width:52.20px;height:0.50px;background:rgba(0,0,0,0.15);"></div><div style="left:59.40px;top:95.40px;width:300px;height:3.96px;line-height:3.96px;font-size:3.96px;color:#ececec;font-weight:normal;text-align:center;white-space:nowrap;">Leverage agile</div><div style="left:183.30px;top:103.74px;width:52.20px;height:0.50px;background:rgba(0,0,0,0.15);"></div><div style="left:59.40px;top:109.72px;width:300px;height:3.96px;line-height:3.96px;font-size:3.96px;color:#ececec;font-weight:normal;text-align:center;white-space:nowrap;">Leverage agile</div><div style="left:183.30px;top:118.06px;width:52.20px;height:0.50px;background:rgba(0,0,0,0.15);"></div><div style="left:59.40px;top:124.04px;width:300px;height:3.96px;line-height:3.96px;font-size:3.96px;color:#ececec;font-weight:normal;text-align:center;white-space:nowrap;">Leverage agile</div><div style="left:183.30px;top:132.38px;width:52.20px;height:0.50px;background:rgba(0,0,0,0.15);"></div><div style="left:59.40px;top:138.36px;width:300px;height:3.96px;line-height:3.96px;font-size:3.96px;color:#ececec;font-weight:normal;text-align:center;white-space:nowrap;">Leverage agile</div><div style="left:183.05px;top:60.60px;width:0.50px;height:86.10px;background:rgba(0,0,0,0.35);"></div><div style="left:235.50px;top:60.60px;width:52.50px;height:14.50px;background:#7de05c;"></div><div style="left:235.50px;top:75.10px;width:52.50px;height:71.60px;background:#6e9e66;"></div><div style="left:111.60px;top:66.40px;width:300px;height:4.50px;line-height:4.50px;font-size:4.50px;color:#fff;font-weight:bold;text-align:center;white-space:nowrap;">Title Five</div><div style="left:235.50px;top:75.10px;width:52.20px;height:0.50px;background:rgba(0,0,0,0.15);"></div><div style="left:111.60px;top:81.08px;width:300px;height:3.96px;line-height:3.96px;font-size:3.96px;color:#ececec;font-weight:normal;text-align:center;white-space:nowrap;">Leverage agile</div><div style="left:235.50px;top:89.42px;width:52.20px;height:0.50px;background:rgba(0,0,0,0.15);"></div><div style="left:111.60px;top:95.40px;width:300px;height:3.96px;line-height:3.96px;font-size:3.96px;color:#ececec;font-weight:normal;text-align:center;white-space:nowrap;">Leverage agile</div><div style="left:235.50px;top:103.74px;width:52.20px;height:0.50px;background:rgba(0,0,0,0.15);"></div><div style="left:111.60px;top:109.72px;width:300px;height:3.96px;line-height:3.96px;font-size:3.96px;color:#ececec;font-weight:normal;text-align:center;white-space:nowrap;">Leverage agile</div><div style="left:235.50px;top:118.06px;width:52.20px;height:0.50px;background:rgba(0,0,0,0.15);"></div><div style="left:111.60px;top:124.04px;width:300px;height:3.96px;line-height:3.96px;font-size:3.96px;color:#ececec;font-weight:normal;text-align:center;white-space:nowrap;">Leverage agile</div><div style="left:235.50px;top:132.38px;width:52.20px;height:0.50px;background:rgba(0,0,0,0.15);"></div><div style="left:111.60px;top:138.36px;width:300px;height:3.96px;line-height:3.96px;font-size:3.96px;color:#ececec;font-weight:normal;text-align:center;white-space:nowrap;">Leverage agile</div><div style="left:235.25px;top:60.60px;width:0.50px;height:86.10px;background:rgba(0,0,0,0.35);"></div><div style="left:11.00px;top:166.85px;width:300px;height:3.50px;line-height:3.50px;font-size:3.50px;color:#3c3c3c;font-weight:normal;text-align:left;white-space:nowrap;">www.website.com</div><div style="left:3.00px;top:166.55px;width:300px;height:3.50px;line-height:3.50px;font-size:3.50px;color:#3c3c3c;font-weight:normal;text-align:right;white-space:nowrap;">24</div></div><div class="card" style="left:626px;top:400px;width:314px;height:176px;"><div style="left:7.00px;top:18.80px;width:300px;height:13.20px;line-height:13.20px;font-size:13.20px;color:#fff;font-weight:bold;text-align:center;white-space:nowrap;transform:scaleX(0.955);transform-origin:center center;">Gantt Chart</div><div style="left:14.00px;top:44.50px;width:288.00px;height:111.50px;background:#0a0a0a;outline:0.6px solid #202020;"></div><div style="left:14.00px;top:66.00px;width:288.00px;height:0.60px;background:#202020;"></div><div style="left:14.00px;top:88.00px;width:288.00px;height:0.60px;background:#202020;"></div><div style="left:14.00px;top:110.50px;width:288.00px;height:0.60px;background:#202020;"></div><div style="left:14.00px;top:134.00px;width:288.00px;height:0.60px;background:#202020;"></div><div style="left:76.00px;top:54.00px;width:226.00px;height:0.50px;background:#202020;"></div><div style="left:76.00px;top:44.50px;width:0.60px;height:111.50px;background:#202020;"></div><div style="left:86.76px;top:54.00px;width:0.50px;height:102.00px;background:#202020;"></div><div style="left:97.52px;top:54.00px;width:0.50px;height:102.00px;background:#202020;"></div><div style="left:108.29px;top:54.00px;width:0.50px;height:102.00px;background:#202020;"></div><div style="left:119.05px;top:54.00px;width:0.50px;height:102.00px;background:#202020;"></div><div style="left:129.81px;top:54.00px;width:0.50px;height:102.00px;background:#202020;"></div><div style="left:140.57px;top:54.00px;width:0.50px;height:102.00px;background:#202020;"></div><div style="left:151.33px;top:54.00px;width:0.50px;height:102.00px;background:#202020;"></div><div style="left:162.10px;top:54.00px;width:0.50px;height:102.00px;background:#202020;"></div><div style="left:172.86px;top:54.00px;width:0.50px;height:102.00px;background:#202020;"></div><div style="left:183.62px;top:54.00px;width:0.50px;height:102.00px;background:#202020;"></div><div style="left:194.38px;top:54.00px;width:0.50px;height:102.00px;background:#202020;"></div><div style="left:205.14px;top:54.00px;width:0.50px;height:102.00px;background:#202020;"></div><div style="left:215.90px;top:54.00px;width:0.50px;height:102.00px;background:#202020;"></div><div style="left:226.67px;top:54.00px;width:0.50px;height:102.00px;background:#202020;"></div><div style="left:237.43px;top:54.00px;width:0.50px;height:102.00px;background:#202020;"></div><div style="left:248.19px;top:54.00px;width:0.50px;height:102.00px;background:#202020;"></div><div style="left:258.95px;top:54.00px;width:0.50px;height:102.00px;background:#202020;"></div><div style="left:269.71px;top:54.00px;width:0.50px;height:102.00px;background:#202020;"></div><div style="left:280.48px;top:54.00px;width:0.50px;height:102.00px;background:#202020;"></div><div style="left:291.24px;top:54.00px;width:0.50px;height:102.00px;background:#202020;"></div><div style="left:39.00px;top:48.90px;width:300px;height:3.40px;line-height:3.40px;font-size:3.40px;color:#fff;font-weight:bold;text-align:center;white-space:nowrap;">August 2022</div><div style="left:-68.62px;top:58.20px;width:300px;height:4.00px;line-height:4.00px;font-size:4.00px;color:#fff;font-weight:normal;text-align:center;white-space:nowrap;">1</div><div style="left:-57.86px;top:58.20px;width:300px;height:4.00px;line-height:4.00px;font-size:4.00px;color:#fff;font-weight:normal;text-align:center;white-space:nowrap;">2</div><div style="left:-47.10px;top:58.20px;width:300px;height:4.00px;line-height:4.00px;font-size:4.00px;color:#fff;font-weight:normal;text-align:center;white-space:nowrap;">3</div><div style="left:-36.33px;top:58.20px;width:300px;height:4.00px;line-height:4.00px;font-size:4.00px;color:#fff;font-weight:normal;text-align:center;white-space:nowrap;">4</div><div style="left:-25.57px;top:58.20px;width:300px;height:4.00px;line-height:4.00px;font-size:4.00px;color:#fff;font-weight:normal;text-align:center;white-space:nowrap;">5</div><div style="left:-14.81px;top:58.20px;width:300px;height:4.00px;line-height:4.00px;font-size:4.00px;color:#fff;font-weight:normal;text-align:center;white-space:nowrap;">6</div><div style="left:-4.05px;top:58.20px;width:300px;height:4.00px;line-height:4.00px;font-size:4.00px;color:#fff;font-weight:normal;text-align:center;white-space:nowrap;">7</div><div style="left:6.71px;top:58.20px;width:300px;height:4.00px;line-height:4.00px;font-size:4.00px;color:#fff;font-weight:normal;text-align:center;white-space:nowrap;">8</div><div style="left:17.48px;top:58.20px;width:300px;height:4.00px;line-height:4.00px;font-size:4.00px;color:#fff;font-weight:normal;text-align:center;white-space:nowrap;">9</div><div style="left:28.24px;top:58.20px;width:300px;height:4.00px;line-height:4.00px;font-size:4.00px;color:#fff;font-weight:normal;text-align:center;white-space:nowrap;">10</div><div style="left:39.00px;top:58.20px;width:300px;height:4.00px;line-height:4.00px;font-size:4.00px;color:#fff;font-weight:normal;text-align:center;white-space:nowrap;">11</div><div style="left:49.76px;top:58.20px;width:300px;height:4.00px;line-height:4.00px;font-size:4.00px;color:#fff;font-weight:normal;text-align:center;white-space:nowrap;">12</div><div style="left:60.52px;top:58.20px;width:300px;height:4.00px;line-height:4.00px;font-size:4.00px;color:#fff;font-weight:normal;text-align:center;white-space:nowrap;">13</div><div style="left:71.29px;top:58.20px;width:300px;height:4.00px;line-height:4.00px;font-size:4.00px;color:#fff;font-weight:normal;text-align:center;white-space:nowrap;">14</div><div style="left:82.05px;top:58.20px;width:300px;height:4.00px;line-height:4.00px;font-size:4.00px;color:#fff;font-weight:normal;text-align:center;white-space:nowrap;">15</div><div style="left:92.81px;top:58.20px;width:300px;height:4.00px;line-height:4.00px;font-size:4.00px;color:#fff;font-weight:normal;text-align:center;white-space:nowrap;">16</div><div style="left:103.57px;top:58.20px;width:300px;height:4.00px;line-height:4.00px;font-size:4.00px;color:#fff;font-weight:normal;text-align:center;white-space:nowrap;">17</div><div style="left:114.33px;top:58.20px;width:300px;height:4.00px;line-height:4.00px;font-size:4.00px;color:#fff;font-weight:normal;text-align:center;white-space:nowrap;">18</div><div style="left:125.10px;top:58.20px;width:300px;height:4.00px;line-height:4.00px;font-size:4.00px;color:#fff;font-weight:normal;text-align:center;white-space:nowrap;">19</div><div style="left:135.86px;top:58.20px;width:300px;height:4.00px;line-height:4.00px;font-size:4.00px;color:#fff;font-weight:normal;text-align:center;white-space:nowrap;">20</div><div style="left:146.62px;top:58.20px;width:300px;height:4.00px;line-height:4.00px;font-size:4.00px;color:#fff;font-weight:normal;text-align:center;white-space:nowrap;">21</div><div style="left:-105.00px;top:53.90px;width:300px;height:4.20px;line-height:4.20px;font-size:4.20px;color:#fff;font-weight:bold;text-align:center;white-space:nowrap;">Project</div><div style="left:-105.00px;top:75.85px;width:300px;height:3.90px;line-height:3.90px;font-size:3.90px;color:#606060;font-weight:normal;text-align:center;white-space:nowrap;">Business 1</div><div style="left:-105.00px;top:98.10px;width:300px;height:3.90px;line-height:3.90px;font-size:3.90px;color:#606060;font-weight:normal;text-align:center;white-space:nowrap;">Business 2</div><div style="left:-105.00px;top:121.10px;width:300px;height:3.90px;line-height:3.90px;font-size:3.90px;color:#fff;font-weight:bold;text-align:center;white-space:nowrap;">Business 3</div><div style="left:-105.00px;top:143.85px;width:300px;height:3.90px;line-height:3.90px;font-size:3.90px;color:#606060;font-weight:normal;text-align:center;white-space:nowrap;">Business 4</div><div style="left:84.20px;top:73.00px;width:76.80px;height:7.00px;background:#4a4a4a;"></div><div style="left:117.70px;top:97.40px;width:76.30px;height:6.20px;background:#4a4a4a;"></div><div style="left:215.60px;top:97.40px;width:33.00px;height:6.20px;background:#4a4a4a;"></div><div style="left:101.50px;top:119.80px;width:114.10px;height:6.80px;background:#7cc4f0;"></div><div style="left:73.70px;top:143.00px;width:76.30px;height:6.50px;background:#4a4a4a;"></div><div style="left:194.00px;top:143.00px;width:98.60px;height:6.50px;background:#4a4a4a;"></div><div style="left:11.00px;top:166.85px;width:300px;height:3.50px;line-height:3.50px;font-size:3.50px;color:#3c3c3c;font-weight:normal;text-align:left;white-space:nowrap;">www.website.com</div><div style="left:3.00px;top:166.55px;width:300px;height:3.50px;line-height:3.50px;font-size:3.50px;color:#3c3c3c;font-weight:normal;text-align:right;white-space:nowrap;">24</div></div>
</body></html>
